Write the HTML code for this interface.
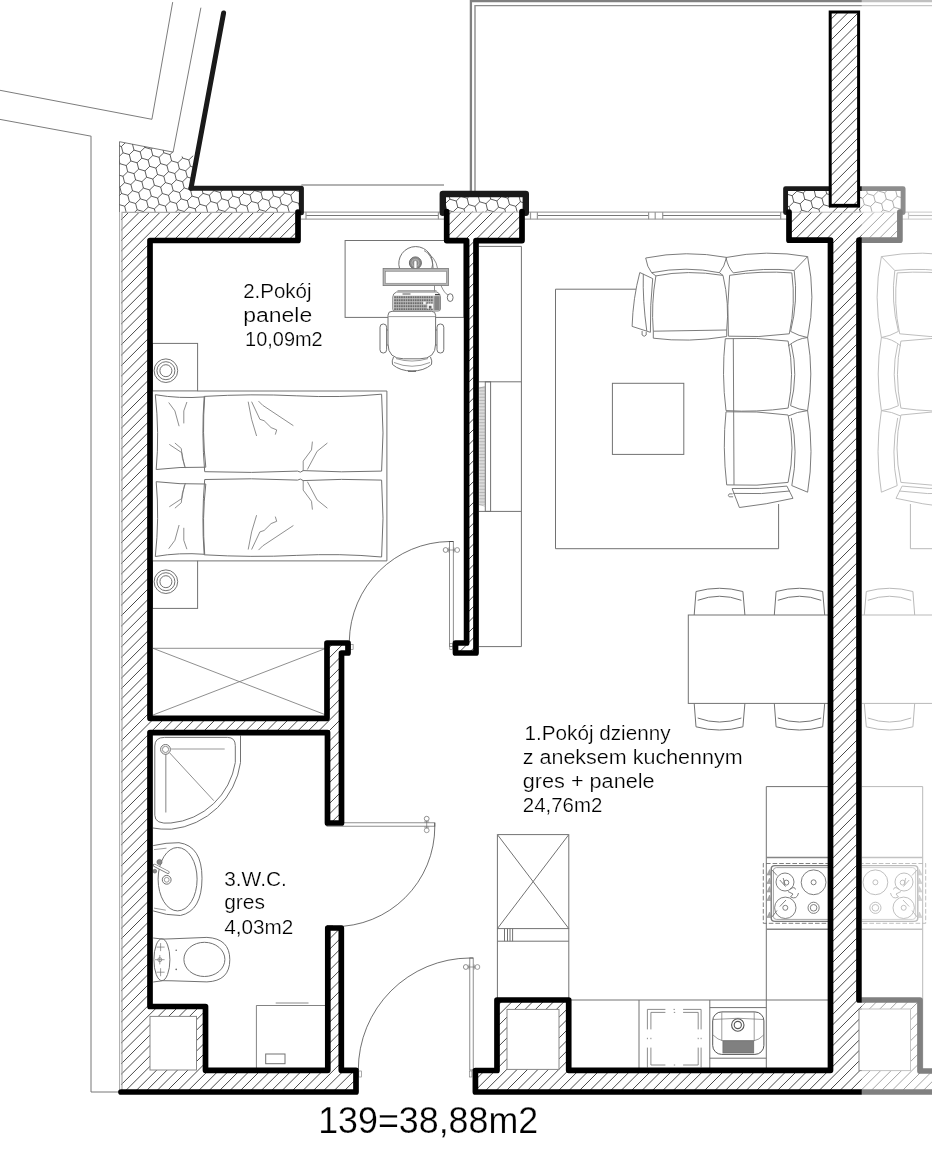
<!DOCTYPE html>
<html lang="pl"><head><meta charset="utf-8"><title>139 = 38,88 m2</title>
<style>html,body{margin:0;padding:0;background:#fff}svg{display:block;filter:grayscale(1)}</style></head>
<body><svg width="932" height="1149" viewBox="0 0 932 1149">
<defs>
<pattern id="hatch" width="10.4" height="10.4" patternUnits="userSpaceOnUse">
<path d="M-1 11.4 L11.4 -1 M-1 1 L1 -1 M9.4 11.4 L11.4 9.4" stroke="#000" stroke-width="0.68" fill="none"/>
</pattern>
<pattern id="hex" width="10.8" height="18.706" patternUnits="userSpaceOnUse" patternTransform="translate(121 143) rotate(11)">
<path d="M5.4 0 L10.8 3.118 L10.8 9.353 L5.4 12.471 L0 9.353 L0 3.118 Z M5.4 12.471 L5.4 18.706" stroke="#222" stroke-width="0.6" fill="none"/>
</pattern>
<pattern id="tvlines" width="6" height="1.5" patternUnits="userSpaceOnUse">
<path d="M0 0.75 H6" stroke="#999" stroke-width="0.8"/>
</pattern>
</defs>
<rect x="0" y="0" width="932" height="1149" fill="#fff"/>
<clipPath id="c1"><path d="M121 212 L298 212 L298 240.5 L150 240.5 L150 718.3 L327 718.3 L327 643 L348 643 L348 653 L341.5 653 L341.5 823 L327.5 823 L327.5 732.6 L150 732.6 L150 1006.5 L205.5 1006.5 L205.5 1070.3 L327.8 1070.3 L327.8 928 L341.3 928 L341.3 1070.3 L356 1070.3 L356 1092 L121 1092 Z"/></clipPath>
<path clip-path="url(#c1)" d="M120 221.04 L357 -15.96 M120 231.46 L357 -5.54 M120 241.88 L357 4.88 M120 252.30 L357 15.30 M120 262.72 L357 25.72 M120 273.14 L357 36.14 M120 283.56 L357 46.56 M120 293.98 L357 56.98 M120 304.40 L357 67.40 M120 314.82 L357 77.82 M120 325.24 L357 88.24 M120 335.66 L357 98.66 M120 346.08 L357 109.08 M120 356.50 L357 119.50 M120 366.92 L357 129.92 M120 377.34 L357 140.34 M120 387.76 L357 150.76 M120 398.18 L357 161.18 M120 408.60 L357 171.60 M120 419.02 L357 182.02 M120 429.44 L357 192.44 M120 439.86 L357 202.86 M120 450.28 L357 213.28 M120 460.70 L357 223.70 M120 471.12 L357 234.12 M120 481.54 L357 244.54 M120 491.96 L357 254.96 M120 502.38 L357 265.38 M120 512.80 L357 275.80 M120 523.22 L357 286.22 M120 533.64 L357 296.64 M120 544.06 L357 307.06 M120 554.48 L357 317.48 M120 564.90 L357 327.90 M120 575.32 L357 338.32 M120 585.74 L357 348.74 M120 596.16 L357 359.16 M120 606.58 L357 369.58 M120 617.00 L357 380.00 M120 627.42 L357 390.42 M120 637.84 L357 400.84 M120 648.26 L357 411.26 M120 658.68 L357 421.68 M120 669.10 L357 432.10 M120 679.52 L357 442.52 M120 689.94 L357 452.94 M120 700.36 L357 463.36 M120 710.78 L357 473.78 M120 721.20 L357 484.20 M120 731.62 L357 494.62 M120 742.04 L357 505.04 M120 752.46 L357 515.46 M120 762.88 L357 525.88 M120 773.30 L357 536.30 M120 783.72 L357 546.72 M120 794.14 L357 557.14 M120 804.56 L357 567.56 M120 814.98 L357 577.98 M120 825.40 L357 588.40 M120 835.82 L357 598.82 M120 846.24 L357 609.24 M120 856.66 L357 619.66 M120 867.08 L357 630.08 M120 877.50 L357 640.50 M120 887.92 L357 650.92 M120 898.34 L357 661.34 M120 908.76 L357 671.76 M120 919.18 L357 682.18 M120 929.60 L357 692.60 M120 940.02 L357 703.02 M120 950.44 L357 713.44 M120 960.86 L357 723.86 M120 971.28 L357 734.28 M120 981.70 L357 744.70 M120 992.12 L357 755.12 M120 1002.54 L357 765.54 M120 1012.96 L357 775.96 M120 1023.38 L357 786.38 M120 1033.80 L357 796.80 M120 1044.22 L357 807.22 M120 1054.64 L357 817.64 M120 1065.06 L357 828.06 M120 1075.48 L357 838.48 M120 1085.90 L357 848.90 M120 1096.32 L357 859.32 M120 1106.74 L357 869.74 M120 1117.16 L357 880.16 M120 1127.58 L357 890.58 M120 1138.00 L357 901.00 M120 1148.42 L357 911.42 M120 1158.84 L357 921.84 M120 1169.26 L357 932.26 M120 1179.68 L357 942.68 M120 1190.10 L357 953.10 M120 1200.52 L357 963.52 M120 1210.94 L357 973.94 M120 1221.36 L357 984.36 M120 1231.78 L357 994.78 M120 1242.20 L357 1005.20 M120 1252.62 L357 1015.62 M120 1263.04 L357 1026.04 M120 1273.46 L357 1036.46 M120 1283.88 L357 1046.88 M120 1294.30 L357 1057.30 M120 1304.72 L357 1067.72 M120 1315.14 L357 1078.14 M120 1325.56 L357 1088.56" fill="none" stroke="#000" stroke-width="0.72"/>
<clipPath id="c2"><path d="M446.7 211.5 L522 211.5 L522 240.6 L476 240.6 L476 653 L455.5 653 L455.5 643 L466.6 643 L466.6 240.6 L446.7 240.6 Z"/></clipPath>
<path clip-path="url(#c2)" d="M445.7 217.63 L523 140.33 M445.7 228.05 L523 150.75 M445.7 238.47 L523 161.17 M445.7 248.89 L523 171.59 M445.7 259.31 L523 182.01 M445.7 269.73 L523 192.43 M445.7 280.15 L523 202.85 M445.7 290.57 L523 213.27 M445.7 300.99 L523 223.69 M445.7 311.41 L523 234.11 M445.7 321.83 L523 244.53 M445.7 332.25 L523 254.95 M445.7 342.67 L523 265.37 M445.7 353.09 L523 275.79 M445.7 363.51 L523 286.21 M445.7 373.93 L523 296.63 M445.7 384.35 L523 307.05 M445.7 394.77 L523 317.47 M445.7 405.19 L523 327.89 M445.7 415.61 L523 338.31 M445.7 426.03 L523 348.73 M445.7 436.45 L523 359.15 M445.7 446.87 L523 369.57 M445.7 457.29 L523 379.99 M445.7 467.71 L523 390.41 M445.7 478.13 L523 400.83 M445.7 488.55 L523 411.25 M445.7 498.97 L523 421.67 M445.7 509.39 L523 432.09 M445.7 519.81 L523 442.51 M445.7 530.23 L523 452.93 M445.7 540.65 L523 463.35 M445.7 551.07 L523 473.77 M445.7 561.49 L523 484.19 M445.7 571.91 L523 494.61 M445.7 582.33 L523 505.03 M445.7 592.75 L523 515.45 M445.7 603.17 L523 525.87 M445.7 613.59 L523 536.29 M445.7 624.01 L523 546.71 M445.7 634.43 L523 557.13 M445.7 644.85 L523 567.55 M445.7 655.27 L523 577.97 M445.7 665.69 L523 588.39 M445.7 676.11 L523 598.81 M445.7 686.53 L523 609.23 M445.7 696.95 L523 619.65 M445.7 707.37 L523 630.07 M445.7 717.79 L523 640.49 M445.7 728.21 L523 650.91" fill="none" stroke="#000" stroke-width="0.72"/>
<clipPath id="c3"><path d="M789 212 L899.9 212 L899.9 240.2 L859 240.2 L859 1000 L920 1000 L920 1071 L932 1071 L932 1092 L475.4 1092 L475.4 1070.5 L497 1070.5 L497 1000 L568.7 1000 L568.7 1070.3 L830.5 1070.3 L830.5 240.2 L789 240.2 Z M830.3 204 H859 V213 H830.3 Z"/></clipPath>
<path clip-path="url(#c3)" d="M474.4 216.08 L933 -242.52 M474.4 226.50 L933 -232.10 M474.4 236.92 L933 -221.68 M474.4 247.34 L933 -211.26 M474.4 257.76 L933 -200.84 M474.4 268.18 L933 -190.42 M474.4 278.60 L933 -180.00 M474.4 289.02 L933 -169.58 M474.4 299.44 L933 -159.16 M474.4 309.86 L933 -148.74 M474.4 320.28 L933 -138.32 M474.4 330.70 L933 -127.90 M474.4 341.12 L933 -117.48 M474.4 351.54 L933 -107.06 M474.4 361.96 L933 -96.64 M474.4 372.38 L933 -86.22 M474.4 382.80 L933 -75.80 M474.4 393.22 L933 -65.38 M474.4 403.64 L933 -54.96 M474.4 414.06 L933 -44.54 M474.4 424.48 L933 -34.12 M474.4 434.90 L933 -23.70 M474.4 445.32 L933 -13.28 M474.4 455.74 L933 -2.86 M474.4 466.16 L933 7.56 M474.4 476.58 L933 17.98 M474.4 487.00 L933 28.40 M474.4 497.42 L933 38.82 M474.4 507.84 L933 49.24 M474.4 518.26 L933 59.66 M474.4 528.68 L933 70.08 M474.4 539.10 L933 80.50 M474.4 549.52 L933 90.92 M474.4 559.94 L933 101.34 M474.4 570.36 L933 111.76 M474.4 580.78 L933 122.18 M474.4 591.20 L933 132.60 M474.4 601.62 L933 143.02 M474.4 612.04 L933 153.44 M474.4 622.46 L933 163.86 M474.4 632.88 L933 174.28 M474.4 643.30 L933 184.70 M474.4 653.72 L933 195.12 M474.4 664.14 L933 205.54 M474.4 674.56 L933 215.96 M474.4 684.98 L933 226.38 M474.4 695.40 L933 236.80 M474.4 705.82 L933 247.22 M474.4 716.24 L933 257.64 M474.4 726.66 L933 268.06 M474.4 737.08 L933 278.48 M474.4 747.50 L933 288.90 M474.4 757.92 L933 299.32 M474.4 768.34 L933 309.74 M474.4 778.76 L933 320.16 M474.4 789.18 L933 330.58 M474.4 799.60 L933 341.00 M474.4 810.02 L933 351.42 M474.4 820.44 L933 361.84 M474.4 830.86 L933 372.26 M474.4 841.28 L933 382.68 M474.4 851.70 L933 393.10 M474.4 862.12 L933 403.52 M474.4 872.54 L933 413.94 M474.4 882.96 L933 424.36 M474.4 893.38 L933 434.78 M474.4 903.80 L933 445.20 M474.4 914.22 L933 455.62 M474.4 924.64 L933 466.04 M474.4 935.06 L933 476.46 M474.4 945.48 L933 486.88 M474.4 955.90 L933 497.30 M474.4 966.32 L933 507.72 M474.4 976.74 L933 518.14 M474.4 987.16 L933 528.56 M474.4 997.58 L933 538.98 M474.4 1008.00 L933 549.40 M474.4 1018.42 L933 559.82 M474.4 1028.84 L933 570.24 M474.4 1039.26 L933 580.66 M474.4 1049.68 L933 591.08 M474.4 1060.10 L933 601.50 M474.4 1070.52 L933 611.92 M474.4 1080.94 L933 622.34 M474.4 1091.36 L933 632.76 M474.4 1101.78 L933 643.18 M474.4 1112.20 L933 653.60 M474.4 1122.62 L933 664.02 M474.4 1133.04 L933 674.44 M474.4 1143.46 L933 684.86 M474.4 1153.88 L933 695.28 M474.4 1164.30 L933 705.70 M474.4 1174.72 L933 716.12 M474.4 1185.14 L933 726.54 M474.4 1195.56 L933 736.96 M474.4 1205.98 L933 747.38 M474.4 1216.40 L933 757.80 M474.4 1226.82 L933 768.22 M474.4 1237.24 L933 778.64 M474.4 1247.66 L933 789.06 M474.4 1258.08 L933 799.48 M474.4 1268.50 L933 809.90 M474.4 1278.92 L933 820.32 M474.4 1289.34 L933 830.74 M474.4 1299.76 L933 841.16 M474.4 1310.18 L933 851.58 M474.4 1320.60 L933 862.00 M474.4 1331.02 L933 872.42 M474.4 1341.44 L933 882.84 M474.4 1351.86 L933 893.26 M474.4 1362.28 L933 903.68 M474.4 1372.70 L933 914.10 M474.4 1383.12 L933 924.52 M474.4 1393.54 L933 934.94 M474.4 1403.96 L933 945.36 M474.4 1414.38 L933 955.78 M474.4 1424.80 L933 966.20 M474.4 1435.22 L933 976.62 M474.4 1445.64 L933 987.04 M474.4 1456.06 L933 997.46 M474.4 1466.48 L933 1007.88 M474.4 1476.90 L933 1018.30 M474.4 1487.32 L933 1028.72 M474.4 1497.74 L933 1039.14 M474.4 1508.16 L933 1049.56 M474.4 1518.58 L933 1059.98 M474.4 1529.00 L933 1070.40 M474.4 1539.42 L933 1080.82 M474.4 1549.84 L933 1091.24" fill="none" stroke="#000" stroke-width="0.72"/>
<clipPath id="c4"><path d="M831.2 12.2 H858.6 V205.2 H831.2 Z"/></clipPath>
<path clip-path="url(#c4)" d="M830 20.20 L860 -9.80 M830 30.62 L860 0.62 M830 41.04 L860 11.04 M830 51.46 L860 21.46 M830 61.88 L860 31.88 M830 72.30 L860 42.30 M830 82.72 L860 52.72 M830 93.14 L860 63.14 M830 103.56 L860 73.56 M830 113.98 L860 83.98 M830 124.40 L860 94.40 M830 134.82 L860 104.82 M830 145.24 L860 115.24 M830 155.66 L860 125.66 M830 166.08 L860 136.08 M830 176.50 L860 146.50 M830 186.92 L860 156.92 M830 197.34 L860 167.34 M830 207.76 L860 177.76 M830 218.18 L860 188.18 M830 228.60 L860 198.60" fill="none" stroke="#000" stroke-width="0.72"/>
<clipPath id="h1"><path d="M119.5 141.7 L173.1 152.1 L180 153.4 L181.5 156.5 L187 157 L191.5 154.5 L197 158.5 L191 188 L301.4 188 L301.4 212 L119.5 212 Z"/></clipPath>
<path clip-path="url(#h1)" d="M80.6 123.0 L86.9 124.8 L88.5 131.2 L83.8 135.7 M91.6 120.3 L97.9 122.1 L99.5 128.4 L94.8 133.0 M102.6 117.6 L108.8 119.4 L110.4 125.7 L105.7 130.2 M113.5 114.8 L119.8 116.6 L121.4 123.0 L116.7 127.5 M124.5 112.1 L130.8 113.9 L132.4 120.2 L127.7 124.8 M135.5 109.4 L141.7 111.2 L143.3 117.5 L138.6 122.0 M146.4 106.6 L152.7 108.4 L154.3 114.8 L149.6 119.3 M157.4 103.9 L163.7 105.7 L165.2 112.0 L160.6 116.6 M168.4 101.2 L174.6 103.0 L176.2 109.3 L171.5 113.8 M179.3 98.4 L185.6 100.2 L187.2 106.6 L182.5 111.1 M190.3 95.7 L196.6 97.5 L198.1 103.8 L193.4 108.4 M201.3 93.0 L207.5 94.8 L209.1 101.1 L204.4 105.6 M212.2 90.2 L218.5 92.0 L220.1 98.4 L215.4 102.9 M223.2 87.5 L229.5 89.3 L231.0 95.6 L226.3 100.2 M234.1 84.8 L240.4 86.6 L242.0 92.9 L237.3 97.4 M245.1 82.0 L251.4 83.8 L253.0 90.2 L248.3 94.7 M256.1 79.3 L262.3 81.1 L263.9 87.4 L259.2 92.0 M267.0 76.6 L273.3 78.4 L274.9 84.7 L270.2 89.2 M278.0 73.8 L284.3 75.6 L285.9 82.0 L281.2 86.5 M289.0 71.1 L295.2 72.9 L296.8 79.2 L292.1 83.8 M299.9 68.4 L306.2 70.2 L307.8 76.5 L303.1 81.0 M77.5 133.9 L83.8 135.7 L85.4 142.0 L80.7 146.6 M88.5 131.2 L94.8 133.0 L96.3 139.3 L91.7 143.8 M99.5 128.4 L105.7 130.2 L107.3 136.6 L102.6 141.1 M110.4 125.7 L116.7 127.5 L118.3 133.8 L113.6 138.4 M121.4 123.0 L127.7 124.8 L129.2 131.1 L124.5 135.6 M132.4 120.2 L138.6 122.0 L140.2 128.4 L135.5 132.9 M143.3 117.5 L149.6 119.3 L151.2 125.6 L146.5 130.2 M154.3 114.8 L160.6 116.6 L162.1 122.9 L157.4 127.4 M165.2 112.0 L171.5 113.8 L173.1 120.2 L168.4 124.7 M176.2 109.3 L182.5 111.1 L184.1 117.4 L179.4 122.0 M187.2 106.6 L193.4 108.4 L195.0 114.7 L190.3 119.2 M198.1 103.8 L204.4 105.6 L206.0 112.0 L201.3 116.5 M209.1 101.1 L215.4 102.9 L217.0 109.2 L212.3 113.8 M220.1 98.4 L226.3 100.2 L227.9 106.5 L223.2 111.0 M231.0 95.6 L237.3 97.4 L238.9 103.8 L234.2 108.3 M242.0 92.9 L248.3 94.7 L249.8 101.0 L245.2 105.6 M253.0 90.2 L259.2 92.0 L260.8 98.3 L256.1 102.8 M263.9 87.4 L270.2 89.2 L271.8 95.6 L267.1 100.1 M274.9 84.7 L281.2 86.5 L282.7 92.8 L278.0 97.4 M285.9 82.0 L292.1 83.8 L293.7 90.1 L289.0 94.6 M296.8 79.2 L303.1 81.0 L304.7 87.4 L300.0 91.9 M307.8 76.5 L314.1 78.3 L315.6 84.6 L310.9 89.2 M85.4 142.0 L91.7 143.8 L93.2 150.2 L88.5 154.7 M96.3 139.3 L102.6 141.1 L104.2 147.4 L99.5 152.0 M107.3 136.6 L113.6 138.4 L115.2 144.7 L110.5 149.2 M118.3 133.8 L124.5 135.6 L126.1 142.0 L121.4 146.5 M129.2 131.1 L135.5 132.9 L137.1 139.2 L132.4 143.8 M140.2 128.4 L146.5 130.2 L148.1 136.5 L143.4 141.0 M151.2 125.6 L157.4 127.4 L159.0 133.8 L154.3 138.3 M162.1 122.9 L168.4 124.7 L170.0 131.0 L165.3 135.6 M173.1 120.2 L179.4 122.0 L180.9 128.3 L176.3 132.8 M184.1 117.4 L190.3 119.2 L191.9 125.6 L187.2 130.1 M195.0 114.7 L201.3 116.5 L202.9 122.8 L198.2 127.4 M206.0 112.0 L212.3 113.8 L213.8 120.1 L209.1 124.6 M217.0 109.2 L223.2 111.0 L224.8 117.4 L220.1 121.9 M227.9 106.5 L234.2 108.3 L235.8 114.6 L231.1 119.2 M238.9 103.8 L245.2 105.6 L246.7 111.9 L242.0 116.4 M249.8 101.0 L256.1 102.8 L257.7 109.2 L253.0 113.7 M260.8 98.3 L267.1 100.1 L268.7 106.4 L264.0 111.0 M271.8 95.6 L278.0 97.4 L279.6 103.7 L274.9 108.2 M282.7 92.8 L289.0 94.6 L290.6 101.0 L285.9 105.5 M293.7 90.1 L300.0 91.9 L301.6 98.2 L296.9 102.8 M304.7 87.4 L310.9 89.2 L312.5 95.5 L307.8 100.0 M82.3 152.9 L88.5 154.7 L90.1 161.0 L85.4 165.6 M93.2 150.2 L99.5 152.0 L101.1 158.3 L96.4 162.8 M104.2 147.4 L110.5 149.2 L112.0 155.6 L107.4 160.1 M115.2 144.7 L121.4 146.5 L123.0 152.8 L118.3 157.4 M126.1 142.0 L132.4 143.8 L134.0 150.1 L129.3 154.6 M137.1 139.2 L143.4 141.0 L144.9 147.4 L140.2 151.9 M148.1 136.5 L154.3 138.3 L155.9 144.6 L151.2 149.2 M159.0 133.8 L165.3 135.6 L166.9 141.9 L162.2 146.4 M170.0 131.0 L176.3 132.8 L177.8 139.2 L173.1 143.7 M180.9 128.3 L187.2 130.1 L188.8 136.4 L184.1 141.0 M191.9 125.6 L198.2 127.4 L199.8 133.7 L195.1 138.2 M202.9 122.8 L209.1 124.6 L210.7 131.0 L206.0 135.5 M213.8 120.1 L220.1 121.9 L221.7 128.2 L217.0 132.8 M224.8 117.4 L231.1 119.2 L232.7 125.5 L228.0 130.0 M235.8 114.6 L242.0 116.4 L243.6 122.8 L238.9 127.3 M246.7 111.9 L253.0 113.7 L254.6 120.0 L249.9 124.6 M257.7 109.2 L264.0 111.0 L265.5 117.3 L260.9 121.8 M268.7 106.4 L274.9 108.2 L276.5 114.6 L271.8 119.1 M279.6 103.7 L285.9 105.5 L287.5 111.8 L282.8 116.4 M290.6 101.0 L296.9 102.8 L298.4 109.1 L293.7 113.6 M301.6 98.2 L307.8 100.0 L309.4 106.4 L304.7 110.9 M312.5 95.5 L318.8 97.3 L320.4 103.6 L315.7 108.1 M90.1 161.0 L96.4 162.8 L98.0 169.2 L93.3 173.7 M101.1 158.3 L107.4 160.1 L108.9 166.4 L104.2 171.0 M112.0 155.6 L118.3 157.4 L119.9 163.7 L115.2 168.2 M123.0 152.8 L129.3 154.6 L130.9 161.0 L126.2 165.5 M134.0 150.1 L140.2 151.9 L141.8 158.2 L137.1 162.8 M144.9 147.4 L151.2 149.2 L152.8 155.5 L148.1 160.0 M155.9 144.6 L162.2 146.4 L163.8 152.8 L159.1 157.3 M166.9 141.9 L173.1 143.7 L174.7 150.0 L170.0 154.6 M177.8 139.2 L184.1 141.0 L185.7 147.3 L181.0 151.8 M188.8 136.4 L195.1 138.2 L196.6 144.6 L192.0 149.1 M199.8 133.7 L206.0 135.5 L207.6 141.8 L202.9 146.3 M210.7 131.0 L217.0 132.8 L218.6 139.1 L213.9 143.6 M221.7 128.2 L228.0 130.0 L229.5 136.3 L224.8 140.9 M232.7 125.5 L238.9 127.3 L240.5 133.6 L235.8 138.1 M243.6 122.8 L249.9 124.6 L251.5 130.9 L246.8 135.4 M254.6 120.0 L260.9 121.8 L262.4 128.1 L257.7 132.7 M265.5 117.3 L271.8 119.1 L273.4 125.4 L268.7 129.9 M276.5 114.6 L282.8 116.4 L284.4 122.7 L279.7 127.2 M287.5 111.8 L293.7 113.6 L295.3 119.9 L290.6 124.5 M298.4 109.1 L304.7 110.9 L306.3 117.2 L301.6 121.7 M309.4 106.4 L315.7 108.1 L317.3 114.5 L312.6 119.0 M87.0 171.9 L93.3 173.7 L94.8 180.0 L90.2 184.5 M98.0 169.2 L104.2 171.0 L105.8 177.3 L101.1 181.8 M108.9 166.4 L115.2 168.2 L116.8 174.5 L112.1 179.1 M119.9 163.7 L126.2 165.5 L127.7 171.8 L123.0 176.3 M130.9 161.0 L137.1 162.8 L138.7 169.1 L134.0 173.6 M141.8 158.2 L148.1 160.0 L149.7 166.3 L145.0 170.9 M152.8 155.5 L159.1 157.3 L160.6 163.6 L155.9 168.1 M163.8 152.8 L170.0 154.6 L171.6 160.9 L166.9 165.4 M174.7 150.0 L181.0 151.8 L182.6 158.1 L177.9 162.7 M185.7 147.3 L192.0 149.1 L193.5 155.4 L188.8 159.9 M196.6 144.6 L202.9 146.3 L204.5 152.7 L199.8 157.2 M207.6 141.8 L213.9 143.6 L215.5 149.9 L210.8 154.5 M218.6 139.1 L224.8 140.9 L226.4 147.2 L221.7 151.7 M229.5 136.3 L235.8 138.1 L237.4 144.5 L232.7 149.0 M240.5 133.6 L246.8 135.4 L248.4 141.7 L243.7 146.3 M251.5 130.9 L257.7 132.7 L259.3 139.0 L254.6 143.5 M262.4 128.1 L268.7 129.9 L270.3 136.3 L265.6 140.8 M273.4 125.4 L279.7 127.2 L281.2 133.5 L276.6 138.1 M284.4 122.7 L290.6 124.5 L292.2 130.8 L287.5 135.3 M295.3 119.9 L301.6 121.7 L303.2 128.1 L298.5 132.6 M306.3 117.2 L312.6 119.0 L314.1 125.3 L309.4 129.9 M317.3 114.5 L323.5 116.3 L325.1 122.6 L320.4 127.1 M94.8 180.0 L101.1 181.8 L102.7 188.1 L98.0 192.7 M105.8 177.3 L112.1 179.1 L113.7 185.4 L109.0 189.9 M116.8 174.5 L123.0 176.3 L124.6 182.7 L119.9 187.2 M127.7 171.8 L134.0 173.6 L135.6 179.9 L130.9 184.5 M138.7 169.1 L145.0 170.9 L146.6 177.2 L141.9 181.7 M149.7 166.3 L155.9 168.1 L157.5 174.5 L152.8 179.0 M160.6 163.6 L166.9 165.4 L168.5 171.7 L163.8 176.3 M171.6 160.9 L177.9 162.7 L179.4 169.0 L174.8 173.5 M182.6 158.1 L188.8 159.9 L190.4 166.3 L185.7 170.8 M193.5 155.4 L199.8 157.2 L201.4 163.5 L196.7 168.1 M204.5 152.7 L210.8 154.5 L212.3 160.8 L207.6 165.3 M215.5 149.9 L221.7 151.7 L223.3 158.1 L218.6 162.6 M226.4 147.2 L232.7 149.0 L234.3 155.3 L229.6 159.9 M237.4 144.5 L243.7 146.3 L245.2 152.6 L240.5 157.1 M248.4 141.7 L254.6 143.5 L256.2 149.9 L251.5 154.4 M259.3 139.0 L265.6 140.8 L267.2 147.1 L262.5 151.7 M270.3 136.3 L276.6 138.1 L278.1 144.4 L273.4 148.9 M281.2 133.5 L287.5 135.3 L289.1 141.7 L284.4 146.2 M292.2 130.8 L298.5 132.6 L300.1 138.9 L295.4 143.5 M303.2 128.1 L309.4 129.9 L311.0 136.2 L306.3 140.7 M314.1 125.3 L320.4 127.1 L322.0 133.5 L317.3 138.0 M91.7 190.9 L98.0 192.7 L99.6 199.0 L94.9 203.5 M102.7 188.1 L109.0 189.9 L110.5 196.3 L105.9 200.8 M113.7 185.4 L119.9 187.2 L121.5 193.5 L116.8 198.1 M124.6 182.7 L130.9 184.5 L132.5 190.8 L127.8 195.3 M135.6 179.9 L141.9 181.7 L143.4 188.1 L138.7 192.6 M146.6 177.2 L152.8 179.0 L154.4 185.3 L149.7 189.9 M157.5 174.5 L163.8 176.3 L165.4 182.6 L160.7 187.1 M168.5 171.7 L174.8 173.5 L176.3 179.9 L171.6 184.4 M179.4 169.0 L185.7 170.8 L187.3 177.1 L182.6 181.7 M190.4 166.3 L196.7 168.1 L198.3 174.4 L193.6 178.9 M201.4 163.5 L207.6 165.3 L209.2 171.7 L204.5 176.2 M212.3 160.8 L218.6 162.6 L220.2 168.9 L215.5 173.5 M223.3 158.1 L229.6 159.9 L231.2 166.2 L226.5 170.7 M234.3 155.3 L240.5 157.1 L242.1 163.5 L237.4 168.0 M245.2 152.6 L251.5 154.4 L253.1 160.7 L248.4 165.3 M256.2 149.9 L262.5 151.7 L264.0 158.0 L259.4 162.5 M267.2 147.1 L273.4 148.9 L275.0 155.3 L270.3 159.8 M278.1 144.4 L284.4 146.2 L286.0 152.5 L281.3 157.1 M289.1 141.7 L295.4 143.5 L296.9 149.8 L292.2 154.3 M300.1 138.9 L306.3 140.7 L307.9 147.1 L303.2 151.6 M311.0 136.2 L317.3 138.0 L318.9 144.3 L314.2 148.9 M322.0 133.5 L328.3 135.3 L329.8 141.6 L325.1 146.1 M99.6 199.0 L105.9 200.8 L107.4 207.1 L102.7 211.7 M110.5 196.3 L116.8 198.1 L118.4 204.4 L113.7 208.9 M121.5 193.5 L127.8 195.3 L129.4 201.7 L124.7 206.2 M132.5 190.8 L138.7 192.6 L140.3 198.9 L135.6 203.5 M143.4 188.1 L149.7 189.9 L151.3 196.2 L146.6 200.7 M154.4 185.3 L160.7 187.1 L162.3 193.5 L157.6 198.0 M165.4 182.6 L171.6 184.4 L173.2 190.7 L168.5 195.3 M176.3 179.9 L182.6 181.7 L184.2 188.0 L179.5 192.5 M187.3 177.1 L193.6 178.9 L195.1 185.3 L190.5 189.8 M198.3 174.4 L204.5 176.2 L206.1 182.5 L201.4 187.1 M209.2 171.7 L215.5 173.5 L217.1 179.8 L212.4 184.3 M220.2 168.9 L226.5 170.7 L228.0 177.1 L223.3 181.6 M231.2 166.2 L237.4 168.0 L239.0 174.3 L234.3 178.9 M242.1 163.5 L248.4 165.3 L250.0 171.6 L245.3 176.1 M253.1 160.7 L259.4 162.5 L260.9 168.9 L256.2 173.4 M264.0 158.0 L270.3 159.8 L271.9 166.1 L267.2 170.7 M275.0 155.3 L281.3 157.1 L282.9 163.4 L278.2 167.9 M286.0 152.5 L292.2 154.3 L293.8 160.7 L289.1 165.2 M296.9 149.8 L303.2 151.6 L304.8 157.9 L300.1 162.5 M307.9 147.1 L314.2 148.9 L315.8 155.2 L311.1 159.7 M318.9 144.3 L325.1 146.1 L326.7 152.5 L322.0 157.0 M96.5 209.9 L102.7 211.7 L104.3 218.0 L99.6 222.5 M107.4 207.1 L113.7 208.9 L115.3 215.3 L110.6 219.8 M118.4 204.4 L124.7 206.2 L126.2 212.5 L121.6 217.1 M129.4 201.7 L135.6 203.5 L137.2 209.8 L132.5 214.3 M140.3 198.9 L146.6 200.7 L148.2 207.1 L143.5 211.6 M151.3 196.2 L157.6 198.0 L159.1 204.3 L154.4 208.9 M162.3 193.5 L168.5 195.3 L170.1 201.6 L165.4 206.1 M173.2 190.7 L179.5 192.5 L181.1 198.9 L176.4 203.4 M184.2 188.0 L190.5 189.8 L192.0 196.1 L187.3 200.7 M195.1 185.3 L201.4 187.1 L203.0 193.4 L198.3 197.9 M206.1 182.5 L212.4 184.3 L214.0 190.7 L209.3 195.2 M217.1 179.8 L223.3 181.6 L224.9 187.9 L220.2 192.5 M228.0 177.1 L234.3 178.9 L235.9 185.2 L231.2 189.7 M239.0 174.3 L245.3 176.1 L246.9 182.5 L242.2 187.0 M250.0 171.6 L256.2 173.4 L257.8 179.7 L253.1 184.3 M260.9 168.9 L267.2 170.7 L268.8 177.0 L264.1 181.5 M271.9 166.1 L278.2 167.9 L279.7 174.3 L275.1 178.8 M282.9 163.4 L289.1 165.2 L290.7 171.5 L286.0 176.1 M293.8 160.7 L300.1 162.5 L301.7 168.8 L297.0 173.3 M304.8 157.9 L311.1 159.7 L312.6 166.1 L307.9 170.6 M315.8 155.2 L322.0 157.0 L323.6 163.3 L318.9 167.9 M326.7 152.5 L333.0 154.3 L334.6 160.6 L329.9 165.1 M104.3 218.0 L110.6 219.8 L112.2 226.1 L107.5 230.7 M115.3 215.3 L121.6 217.1 L123.1 223.4 L118.4 227.9 M126.2 212.5 L132.5 214.3 L134.1 220.7 L129.4 225.2 M137.2 209.8 L143.5 211.6 L145.1 217.9 L140.4 222.5 M148.2 207.1 L154.4 208.9 L156.0 215.2 L151.3 219.7 M159.1 204.3 L165.4 206.1 L167.0 212.5 L162.3 217.0 M170.1 201.6 L176.4 203.4 L178.0 209.7 L173.3 214.3 M181.1 198.9 L187.3 200.7 L188.9 207.0 L184.2 211.5 M192.0 196.1 L198.3 197.9 L199.9 204.3 L195.2 208.8 M203.0 193.4 L209.3 195.2 L210.8 201.5 L206.2 206.1 M214.0 190.7 L220.2 192.5 L221.8 198.8 L217.1 203.3 M224.9 187.9 L231.2 189.7 L232.8 196.1 L228.1 200.6 M235.9 185.2 L242.2 187.0 L243.7 193.3 L239.0 197.9 M246.9 182.5 L253.1 184.3 L254.7 190.6 L250.0 195.1 M257.8 179.7 L264.1 181.5 L265.7 187.9 L261.0 192.4 M268.8 177.0 L275.1 178.8 L276.6 185.1 L271.9 189.7 M279.7 174.3 L286.0 176.1 L287.6 182.4 L282.9 186.9 M290.7 171.5 L297.0 173.3 L298.6 179.7 L293.9 184.2 M301.7 168.8 L307.9 170.6 L309.5 176.9 L304.8 181.5 M312.6 166.1 L318.9 167.9 L320.5 174.2 L315.8 178.7 M323.6 163.3 L329.9 165.1 L331.5 171.5 L326.8 176.0 M101.2 228.9 L107.5 230.7 L109.1 237.0 L104.4 241.5 M112.2 226.1 L118.4 227.9 L120.0 234.3 L115.3 238.8 M123.1 223.4 L129.4 225.2 L131.0 231.5 L126.3 236.1 M134.1 220.7 L140.4 222.5 L141.9 228.8 L137.3 233.3 M145.1 217.9 L151.3 219.7 L152.9 226.1 L148.2 230.6 M156.0 215.2 L162.3 217.0 L163.9 223.3 L159.2 227.9 M167.0 212.5 L173.3 214.3 L174.8 220.6 L170.1 225.1 M178.0 209.7 L184.2 211.5 L185.8 217.9 L181.1 222.4 M188.9 207.0 L195.2 208.8 L196.8 215.1 L192.1 219.7 M199.9 204.3 L206.2 206.1 L207.7 212.4 L203.0 216.9 M210.8 201.5 L217.1 203.3 L218.7 209.7 L214.0 214.2 M221.8 198.8 L228.1 200.6 L229.7 206.9 L225.0 211.5 M232.8 196.1 L239.0 197.9 L240.6 204.2 L235.9 208.7 M243.7 193.3 L250.0 195.1 L251.6 201.5 L246.9 206.0 M254.7 190.6 L261.0 192.4 L262.6 198.7 L257.9 203.2 M265.7 187.9 L271.9 189.7 L273.5 196.0 L268.8 200.5 M276.6 185.1 L282.9 186.9 L284.5 193.2 L279.8 197.8 M287.6 182.4 L293.9 184.2 L295.4 190.5 L290.8 195.0 M298.6 179.7 L304.8 181.5 L306.4 187.8 L301.7 192.3 M309.5 176.9 L315.8 178.7 L317.4 185.0 L312.7 189.6 M320.5 174.2 L326.8 176.0 L328.3 182.3 L323.6 186.8 M331.5 171.5 L337.7 173.3 L339.3 179.6 L334.6 184.1 M109.1 237.0 L115.3 238.8 L116.9 245.1 L112.2 249.6 M120.0 234.3 L126.3 236.1 L127.9 242.4 L123.2 246.9 M131.0 231.5 L137.3 233.3 L138.8 239.7 L134.1 244.2 M141.9 228.8 L148.2 230.6 L149.8 236.9 L145.1 241.4 M152.9 226.1 L159.2 227.9 L160.8 234.2 L156.1 238.7 M163.9 223.3 L170.1 225.1 L171.7 231.4 L167.0 236.0 M174.8 220.6 L181.1 222.4 L182.7 228.7 L178.0 233.2 M185.8 217.9 L192.1 219.7 L193.7 226.0 L189.0 230.5 M196.8 215.1 L203.0 216.9 L204.6 223.2 L199.9 227.8 M207.7 212.4 L214.0 214.2 L215.6 220.5 L210.9 225.0 M218.7 209.7 L225.0 211.5 L226.5 217.8 L221.9 222.3 M229.7 206.9 L235.9 208.7 L237.5 215.0 L232.8 219.6 M240.6 204.2 L246.9 206.0 L248.5 212.3 L243.8 216.8 M251.6 201.5 L257.9 203.2 L259.4 209.6 L254.7 214.1 M262.6 198.7 L268.8 200.5 L270.4 206.8 L265.7 211.4 M273.5 196.0 L279.8 197.8 L281.4 204.1 L276.7 208.6 M284.5 193.2 L290.8 195.0 L292.3 201.4 L287.6 205.9 M295.4 190.5 L301.7 192.3 L303.3 198.6 L298.6 203.2 M306.4 187.8 L312.7 189.6 L314.3 195.9 L309.6 200.4 M317.4 185.0 L323.6 186.8 L325.2 193.2 L320.5 197.7 M328.3 182.3 L334.6 184.1 L336.2 190.4 L331.5 195.0 M105.9 247.9 L112.2 249.6 L113.8 256.0 L109.1 260.5 M116.9 245.1 L123.2 246.9 L124.8 253.2 L120.1 257.8 M127.9 242.4 L134.1 244.2 L135.7 250.5 L131.0 255.0 M138.8 239.7 L145.1 241.4 L146.7 247.8 L142.0 252.3 M149.8 236.9 L156.1 238.7 L157.6 245.0 L153.0 249.6 M160.8 234.2 L167.0 236.0 L168.6 242.3 L163.9 246.8 M171.7 231.4 L178.0 233.2 L179.6 239.6 L174.9 244.1 M182.7 228.7 L189.0 230.5 L190.5 236.8 L185.8 241.4 M193.7 226.0 L199.9 227.8 L201.5 234.1 L196.8 238.6 M204.6 223.2 L210.9 225.0 L212.5 231.4 L207.8 235.9 M215.6 220.5 L221.9 222.3 L223.4 228.6 L218.7 233.2 M226.5 217.8 L232.8 219.6 L234.4 225.9 L229.7 230.4 M237.5 215.0 L243.8 216.8 L245.4 223.2 L240.7 227.7 M248.5 212.3 L254.7 214.1 L256.3 220.4 L251.6 225.0 M259.4 209.6 L265.7 211.4 L267.3 217.7 L262.6 222.2 M270.4 206.8 L276.7 208.6 L278.3 215.0 L273.6 219.5 M281.4 204.1 L287.6 205.9 L289.2 212.2 L284.5 216.8 M292.3 201.4 L298.6 203.2 L300.2 209.5 L295.5 214.0 M303.3 198.6 L309.6 200.4 L311.1 206.8 L306.5 211.3 M314.3 195.9 L320.5 197.7 L322.1 204.0 L317.4 208.6 M325.2 193.2 L331.5 195.0 L333.1 201.3 L328.4 205.8 M336.2 190.4 L342.5 192.2 L344.0 198.6 L339.3 203.1 M113.8 256.0 L120.1 257.8 L121.6 264.1 L116.9 268.6 M124.8 253.2 L131.0 255.0 L132.6 261.4 L127.9 265.9 M135.7 250.5 L142.0 252.3 L143.6 258.6 L138.9 263.2 M146.7 247.8 L153.0 249.6 L154.5 255.9 L149.8 260.4 M157.6 245.0 L163.9 246.8 L165.5 253.2 L160.8 257.7 M168.6 242.3 L174.9 244.1 L176.5 250.4 L171.8 255.0 M179.6 239.6 L185.8 241.4 L187.4 247.7 L182.7 252.2 M190.5 236.8 L196.8 238.6 L198.4 245.0 L193.7 249.5 M201.5 234.1 L207.8 235.9 L209.4 242.2 L204.7 246.8 M212.5 231.4 L218.7 233.2 L220.3 239.5 L215.6 244.0 M223.4 228.6 L229.7 230.4 L231.3 236.8 L226.6 241.3 M234.4 225.9 L240.7 227.7 L242.2 234.0 L237.6 238.6 M245.4 223.2 L251.6 225.0 L253.2 231.3 L248.5 235.8 M256.3 220.4 L262.6 222.2 L264.2 228.6 L259.5 233.1 M267.3 217.7 L273.6 219.5 L275.1 225.8 L270.4 230.4 M278.3 215.0 L284.5 216.8 L286.1 223.1 L281.4 227.6 M289.2 212.2 L295.5 214.0 L297.1 220.4 L292.4 224.9 M300.2 209.5 L306.5 211.3 L308.0 217.6 L303.3 222.2 M311.1 206.8 L317.4 208.6 L319.0 214.9 L314.3 219.4 M322.1 204.0 L328.4 205.8 L330.0 212.2 L325.3 216.7 M333.1 201.3 L339.3 203.1 L340.9 209.4 L336.2 214.0 M110.7 266.8 L116.9 268.6 L118.5 275.0 L113.8 279.5 M121.6 264.1 L127.9 265.9 L129.5 272.2 L124.8 276.8 M132.6 261.4 L138.9 263.2 L140.5 269.5 L135.8 274.0 M143.6 258.6 L149.8 260.4 L151.4 266.8 L146.7 271.3 M154.5 255.9 L160.8 257.7 L162.4 264.0 L157.7 268.6 M165.5 253.2 L171.8 255.0 L173.3 261.3 L168.7 265.8 M176.5 250.4 L182.7 252.2 L184.3 258.6 L179.6 263.1 M187.4 247.7 L193.7 249.5 L195.3 255.8 L190.6 260.4 M198.4 245.0 L204.7 246.8 L206.2 253.1 L201.5 257.6 M209.4 242.2 L215.6 244.0 L217.2 250.4 L212.5 254.9 M220.3 239.5 L226.6 241.3 L228.2 247.6 L223.5 252.2 M231.3 236.8 L237.6 238.6 L239.1 244.9 L234.4 249.4 M242.2 234.0 L248.5 235.8 L250.1 242.2 L245.4 246.7 M253.2 231.3 L259.5 233.1 L261.1 239.4 L256.4 244.0 M264.2 228.6 L270.4 230.4 L272.0 236.7 L267.3 241.2 M275.1 225.8 L281.4 227.6 L283.0 234.0 L278.3 238.5 M286.1 223.1 L292.4 224.9 L294.0 231.2 L289.3 235.8 M297.1 220.4 L303.3 222.2 L304.9 228.5 L300.2 233.0 M308.0 217.6 L314.3 219.4 L315.9 225.8 L311.2 230.3 M319.0 214.9 L325.3 216.7 L326.8 223.0 L322.2 227.6 M330.0 212.2 L336.2 214.0 L337.8 220.3 L333.1 224.8 M340.9 209.4 L347.2 211.2 L348.8 217.6 L344.1 222.1 M118.5 275.0 L124.8 276.8 L126.4 283.1 L121.7 287.6 M129.5 272.2 L135.8 274.0 L137.3 280.4 L132.6 284.9 M140.5 269.5 L146.7 271.3 L148.3 277.6 L143.6 282.2 M151.4 266.8 L157.7 268.6 L159.3 274.9 L154.6 279.4 M162.4 264.0 L168.7 265.8 L170.2 272.2 L165.5 276.7 M173.3 261.3 L179.6 263.1 L181.2 269.4 L176.5 274.0 M184.3 258.6 L190.6 260.4 L192.2 266.7 L187.5 271.2 M195.3 255.8 L201.5 257.6 L203.1 264.0 L198.4 268.5 M206.2 253.1 L212.5 254.9 L214.1 261.2 L209.4 265.8 M217.2 250.4 L223.5 252.2 L225.1 258.5 L220.4 263.0 M228.2 247.6 L234.4 249.4 L236.0 255.8 L231.3 260.3 M239.1 244.9 L245.4 246.7 L247.0 253.0 L242.3 257.6 M250.1 242.2 L256.4 244.0 L257.9 250.3 L253.3 254.8 M261.1 239.4 L267.3 241.2 L268.9 247.6 L264.2 252.1 M272.0 236.7 L278.3 238.5 L279.9 244.8 L275.2 249.4 M283.0 234.0 L289.3 235.8 L290.8 242.1 L286.1 246.6 M294.0 231.2 L300.2 233.0 L301.8 239.4 L297.1 243.9 M304.9 228.5 L311.2 230.3 L312.8 236.6 L308.1 241.2 M315.9 225.8 L322.2 227.6 L323.7 233.9 L319.0 238.4 M326.8 223.0 L333.1 224.8 L334.7 231.2 L330.0 235.7 M337.8 220.3 L344.1 222.1 L345.7 228.4 L341.0 233.0" fill="none" stroke="#1a1a1a" stroke-width="0.7" stroke-linejoin="round"/>
<clipPath id="h2"><path d="M443 194 H525.6 V212 H443 Z"/></clipPath>
<path clip-path="url(#h2)" d="M415.4 177.5 L421.7 179.3 L423.3 185.6 L418.6 190.2 M426.4 174.8 L432.6 176.6 L434.2 182.9 L429.5 187.4 M437.3 172.1 L443.6 173.8 L445.2 180.2 L440.5 184.7 M448.3 169.3 L454.6 171.1 L456.2 177.4 L451.5 182.0 M459.3 166.6 L465.5 168.4 L467.1 174.7 L462.4 179.2 M470.2 163.8 L476.5 165.6 L478.1 172.0 L473.4 176.5 M481.2 161.1 L487.5 162.9 L489.0 169.2 L484.4 173.8 M492.2 158.4 L498.4 160.2 L500.0 166.5 L495.3 171.0 M503.1 155.6 L509.4 157.4 L511.0 163.8 L506.3 168.3 M514.1 152.9 L520.4 154.7 L521.9 161.0 L517.2 165.6 M525.1 150.2 L531.3 152.0 L532.9 158.3 L528.2 162.8 M536.0 147.4 L542.3 149.2 L543.9 155.6 L539.2 160.1 M423.3 185.6 L429.5 187.4 L431.1 193.8 L426.4 198.3 M434.2 182.9 L440.5 184.7 L442.1 191.0 L437.4 195.6 M445.2 180.2 L451.5 182.0 L453.0 188.3 L448.3 192.8 M456.2 177.4 L462.4 179.2 L464.0 185.6 L459.3 190.1 M467.1 174.7 L473.4 176.5 L475.0 182.8 L470.3 187.4 M478.1 172.0 L484.4 173.8 L485.9 180.1 L481.2 184.6 M489.0 169.2 L495.3 171.0 L496.9 177.4 L492.2 181.9 M500.0 166.5 L506.3 168.3 L507.9 174.6 L503.2 179.2 M511.0 163.8 L517.2 165.6 L518.8 171.9 L514.1 176.4 M521.9 161.0 L528.2 162.8 L529.8 169.2 L525.1 173.7 M532.9 158.3 L539.2 160.1 L540.8 166.4 L536.1 171.0 M420.1 196.5 L426.4 198.3 L428.0 204.6 L423.3 209.2 M431.1 193.8 L437.4 195.6 L439.0 201.9 L434.3 206.4 M442.1 191.0 L448.3 192.8 L449.9 199.2 L445.2 203.7 M453.0 188.3 L459.3 190.1 L460.9 196.4 L456.2 201.0 M464.0 185.6 L470.3 187.4 L471.9 193.7 L467.2 198.2 M475.0 182.8 L481.2 184.6 L482.8 191.0 L478.1 195.5 M485.9 180.1 L492.2 181.9 L493.8 188.2 L489.1 192.8 M496.9 177.4 L503.2 179.2 L504.7 185.5 L500.1 190.0 M507.9 174.6 L514.1 176.4 L515.7 182.8 L511.0 187.3 M518.8 171.9 L525.1 173.7 L526.7 180.0 L522.0 184.6 M529.8 169.2 L536.1 171.0 L537.6 177.3 L532.9 181.8 M540.8 166.4 L547.0 168.2 L548.6 174.6 L543.9 179.1 M428.0 204.6 L434.3 206.4 L435.8 212.8 L431.1 217.3 M439.0 201.9 L445.2 203.7 L446.8 210.0 L442.1 214.6 M449.9 199.2 L456.2 201.0 L457.8 207.3 L453.1 211.8 M460.9 196.4 L467.2 198.2 L468.7 204.6 L464.0 209.1 M471.9 193.7 L478.1 195.5 L479.7 201.8 L475.0 206.4 M482.8 191.0 L489.1 192.8 L490.7 199.1 L486.0 203.6 M493.8 188.2 L500.1 190.0 L501.6 196.4 L496.9 200.9 M504.7 185.5 L511.0 187.3 L512.6 193.6 L507.9 198.2 M515.7 182.8 L522.0 184.6 L523.6 190.9 L518.9 195.4 M526.7 180.0 L532.9 181.8 L534.5 188.2 L529.8 192.7 M537.6 177.3 L543.9 179.1 L545.5 185.4 L540.8 190.0 M424.9 215.5 L431.1 217.3 L432.7 223.6 L428.0 228.2 M435.8 212.8 L442.1 214.6 L443.7 220.9 L439.0 225.4 M446.8 210.0 L453.1 211.8 L454.7 218.2 L450.0 222.7 M457.8 207.3 L464.0 209.1 L465.6 215.4 L460.9 220.0 M468.7 204.6 L475.0 206.4 L476.6 212.7 L471.9 217.2 M479.7 201.8 L486.0 203.6 L487.5 210.0 L482.9 214.5 M490.7 199.1 L496.9 200.9 L498.5 207.2 L493.8 211.8 M501.6 196.4 L507.9 198.2 L509.5 204.5 L504.8 209.0 M512.6 193.6 L518.9 195.4 L520.4 201.8 L515.7 206.3 M523.6 190.9 L529.8 192.7 L531.4 199.0 L526.7 203.6 M534.5 188.2 L540.8 190.0 L542.4 196.3 L537.7 200.8 M545.5 185.4 L551.8 187.2 L553.3 193.6 L548.6 198.1 M432.7 223.6 L439.0 225.4 L440.6 231.8 L435.9 236.3 M443.7 220.9 L450.0 222.7 L451.5 229.0 L446.8 233.6 M454.7 218.2 L460.9 220.0 L462.5 226.3 L457.8 230.8 M465.6 215.4 L471.9 217.2 L473.5 223.6 L468.8 228.1 M476.6 212.7 L482.9 214.5 L484.4 220.8 L479.7 225.4 M487.5 210.0 L493.8 211.8 L495.4 218.1 L490.7 222.6 M498.5 207.2 L504.8 209.0 L506.4 215.4 L501.7 219.9 M509.5 204.5 L515.7 206.3 L517.3 212.6 L512.6 217.2 M520.4 201.8 L526.7 203.6 L528.3 209.9 L523.6 214.4 M531.4 199.0 L537.7 200.8 L539.3 207.2 L534.6 211.7 M542.4 196.3 L548.6 198.1 L550.2 204.4 L545.5 209.0 M429.6 234.5 L435.9 236.3 L437.5 242.6 L432.8 247.2 M440.6 231.8 L446.8 233.6 L448.4 239.9 L443.7 244.4 M451.5 229.0 L457.8 230.8 L459.4 237.2 L454.7 241.7 M462.5 226.3 L468.8 228.1 L470.4 234.4 L465.7 238.9 M473.5 223.6 L479.7 225.4 L481.3 231.7 L476.6 236.2 M484.4 220.8 L490.7 222.6 L492.3 229.0 L487.6 233.5 M495.4 218.1 L501.7 219.9 L503.2 226.2 L498.6 230.7 M506.4 215.4 L512.6 217.2 L514.2 223.5 L509.5 228.0 M517.3 212.6 L523.6 214.4 L525.2 220.7 L520.5 225.3 M528.3 209.9 L534.6 211.7 L536.1 218.0 L531.4 222.5 M539.3 207.2 L545.5 209.0 L547.1 215.3 L542.4 219.8 M550.2 204.4 L556.5 206.2 L558.1 212.5 L553.4 217.1 M437.5 242.6 L443.7 244.4 L445.3 250.7 L440.6 255.3 M448.4 239.9 L454.7 241.7 L456.3 248.0 L451.6 252.5 M459.4 237.2 L465.7 238.9 L467.2 245.3 L462.5 249.8 M470.4 234.4 L476.6 236.2 L478.2 242.5 L473.5 247.1 M481.3 231.7 L487.6 233.5 L489.2 239.8 L484.5 244.3 M492.3 229.0 L498.6 230.7 L500.1 237.1 L495.4 241.6 M503.2 226.2 L509.5 228.0 L511.1 234.3 L506.4 238.9 M514.2 223.5 L520.5 225.3 L522.1 231.6 L517.4 236.1 M525.2 220.7 L531.4 222.5 L533.0 228.9 L528.3 233.4 M536.1 218.0 L542.4 219.8 L544.0 226.1 L539.3 230.7 M547.1 215.3 L553.4 217.1 L555.0 223.4 L550.3 227.9" fill="none" stroke="#1a1a1a" stroke-width="0.7" stroke-linejoin="round"/>
<clipPath id="h3"><path d="M785 188 H830 V212 H785 Z M859 188 H904 V212 H859 Z"/></clipPath>
<path clip-path="url(#h3)" d="M751.4 172.3 L757.7 174.0 L759.3 180.4 L754.6 184.9 M762.4 169.5 L768.7 171.3 L770.3 177.6 L765.6 182.2 M773.4 166.8 L779.6 168.6 L781.2 174.9 L776.5 179.4 M784.3 164.1 L790.6 165.8 L792.2 172.2 L787.5 176.7 M795.3 161.3 L801.6 163.1 L803.2 169.4 L798.5 174.0 M806.3 158.6 L812.5 160.4 L814.1 166.7 L809.4 171.2 M817.2 155.8 L823.5 157.6 L825.1 164.0 L820.4 168.5 M828.2 153.1 L834.5 154.9 L836.0 161.2 L831.4 165.8 M839.2 150.4 L845.4 152.2 L847.0 158.5 L842.3 163.0 M850.1 147.6 L856.4 149.4 L858.0 155.8 L853.3 160.3 M861.1 144.9 L867.4 146.7 L868.9 153.0 L864.2 157.6 M872.1 142.2 L878.3 144.0 L879.9 150.3 L875.2 154.8 M883.0 139.4 L889.3 141.2 L890.9 147.6 L886.2 152.1 M894.0 136.7 L900.3 138.5 L901.8 144.8 L897.1 149.4 M904.9 134.0 L911.2 135.8 L912.8 142.1 L908.1 146.6 M759.3 180.4 L765.6 182.2 L767.1 188.5 L762.5 193.0 M770.3 177.6 L776.5 179.4 L778.1 185.8 L773.4 190.3 M781.2 174.9 L787.5 176.7 L789.1 183.0 L784.4 187.6 M792.2 172.2 L798.5 174.0 L800.0 180.3 L795.3 184.8 M803.2 169.4 L809.4 171.2 L811.0 177.6 L806.3 182.1 M814.1 166.7 L820.4 168.5 L822.0 174.8 L817.3 179.4 M825.1 164.0 L831.4 165.8 L832.9 172.1 L828.2 176.6 M836.0 161.2 L842.3 163.0 L843.9 169.4 L839.2 173.9 M847.0 158.5 L853.3 160.3 L854.9 166.6 L850.2 171.2 M858.0 155.8 L864.2 157.6 L865.8 163.9 L861.1 168.4 M868.9 153.0 L875.2 154.8 L876.8 161.2 L872.1 165.7 M879.9 150.3 L886.2 152.1 L887.8 158.4 L883.1 163.0 M890.9 147.6 L897.1 149.4 L898.7 155.7 L894.0 160.2 M901.8 144.8 L908.1 146.6 L909.7 153.0 L905.0 157.5 M912.8 142.1 L919.1 143.9 L920.6 150.2 L916.0 154.8 M756.2 191.2 L762.5 193.0 L764.0 199.4 L759.3 203.9 M767.1 188.5 L773.4 190.3 L775.0 196.6 L770.3 201.2 M778.1 185.8 L784.4 187.6 L786.0 193.9 L781.3 198.4 M789.1 183.0 L795.3 184.8 L796.9 191.2 L792.2 195.7 M800.0 180.3 L806.3 182.1 L807.9 188.4 L803.2 193.0 M811.0 177.6 L817.3 179.4 L818.9 185.7 L814.2 190.2 M822.0 174.8 L828.2 176.6 L829.8 183.0 L825.1 187.5 M832.9 172.1 L839.2 173.9 L840.8 180.2 L836.1 184.8 M843.9 169.4 L850.2 171.2 L851.7 177.5 L847.1 182.0 M854.9 166.6 L861.1 168.4 L862.7 174.8 L858.0 179.3 M865.8 163.9 L872.1 165.7 L873.7 172.0 L869.0 176.6 M876.8 161.2 L883.1 163.0 L884.6 169.3 L879.9 173.8 M887.8 158.4 L894.0 160.2 L895.6 166.6 L890.9 171.1 M898.7 155.7 L905.0 157.5 L906.6 163.8 L901.9 168.4 M909.7 153.0 L916.0 154.8 L917.5 161.1 L912.8 165.6 M764.0 199.4 L770.3 201.2 L771.9 207.5 L767.2 212.0 M775.0 196.6 L781.3 198.4 L782.8 204.8 L778.1 209.3 M786.0 193.9 L792.2 195.7 L793.8 202.0 L789.1 206.6 M796.9 191.2 L803.2 193.0 L804.8 199.3 L800.1 203.8 M807.9 188.4 L814.2 190.2 L815.7 196.6 L811.0 201.1 M818.9 185.7 L825.1 187.5 L826.7 193.8 L822.0 198.4 M829.8 183.0 L836.1 184.8 L837.7 191.1 L833.0 195.6 M840.8 180.2 L847.1 182.0 L848.6 188.4 L843.9 192.9 M851.7 177.5 L858.0 179.3 L859.6 185.6 L854.9 190.2 M862.7 174.8 L869.0 176.6 L870.6 182.9 L865.9 187.4 M873.7 172.0 L879.9 173.8 L881.5 180.2 L876.8 184.7 M884.6 169.3 L890.9 171.1 L892.5 177.4 L887.8 182.0 M895.6 166.6 L901.9 168.4 L903.5 174.7 L898.8 179.2 M906.6 163.8 L912.8 165.6 L914.4 172.0 L909.7 176.5 M917.5 161.1 L923.8 162.9 L925.4 169.2 L920.7 173.8 M760.9 210.2 L767.2 212.0 L768.8 218.4 L764.1 222.9 M771.9 207.5 L778.1 209.3 L779.7 215.6 L775.0 220.2 M782.8 204.8 L789.1 206.6 L790.7 212.9 L786.0 217.4 M793.8 202.0 L800.1 203.8 L801.7 210.2 L797.0 214.7 M804.8 199.3 L811.0 201.1 L812.6 207.4 L807.9 212.0 M815.7 196.6 L822.0 198.4 L823.6 204.7 L818.9 209.2 M826.7 193.8 L833.0 195.6 L834.5 202.0 L829.9 206.5 M837.7 191.1 L843.9 192.9 L845.5 199.2 L840.8 203.8 M848.6 188.4 L854.9 190.2 L856.5 196.5 L851.8 201.0 M859.6 185.6 L865.9 187.4 L867.4 193.8 L862.7 198.3 M870.6 182.9 L876.8 184.7 L878.4 191.0 L873.7 195.6 M881.5 180.2 L887.8 182.0 L889.4 188.3 L884.7 192.8 M892.5 177.4 L898.8 179.2 L900.3 185.6 L895.6 190.1 M903.5 174.7 L909.7 176.5 L911.3 182.8 L906.6 187.4 M914.4 172.0 L920.7 173.8 L922.3 180.1 L917.6 184.6 M768.8 218.4 L775.0 220.2 L776.6 226.5 L771.9 231.0 M779.7 215.6 L786.0 217.4 L787.6 223.8 L782.9 228.3 M790.7 212.9 L797.0 214.7 L798.5 221.0 L793.8 225.6 M801.7 210.2 L807.9 212.0 L809.5 218.3 L804.8 222.8 M812.6 207.4 L818.9 209.2 L820.5 215.6 L815.8 220.1 M823.6 204.7 L829.9 206.5 L831.4 212.8 L826.7 217.4 M834.5 202.0 L840.8 203.8 L842.4 210.1 L837.7 214.6 M845.5 199.2 L851.8 201.0 L853.4 207.4 L848.7 211.9 M856.5 196.5 L862.7 198.3 L864.3 204.6 L859.6 209.2 M867.4 193.8 L873.7 195.6 L875.3 201.9 L870.6 206.4 M878.4 191.0 L884.7 192.8 L886.3 199.2 L881.6 203.7 M889.4 188.3 L895.6 190.1 L897.2 196.4 L892.5 201.0 M900.3 185.6 L906.6 187.4 L908.2 193.7 L903.5 198.2 M911.3 182.8 L917.6 184.6 L919.1 191.0 L914.5 195.5 M922.3 180.1 L928.5 181.9 L930.1 188.2 L925.4 192.8 M765.6 229.2 L771.9 231.0 L773.5 237.4 L768.8 241.9 M776.6 226.5 L782.9 228.3 L784.5 234.6 L779.8 239.2 M787.6 223.8 L793.8 225.6 L795.4 231.9 L790.7 236.4 M798.5 221.0 L804.8 222.8 L806.4 229.2 L801.7 233.7 M809.5 218.3 L815.8 220.1 L817.4 226.4 L812.7 230.9 M820.5 215.6 L826.7 217.4 L828.3 223.7 L823.6 228.2 M831.4 212.8 L837.7 214.6 L839.3 221.0 L834.6 225.5 M842.4 210.1 L848.7 211.9 L850.2 218.2 L845.6 222.7 M853.4 207.4 L859.6 209.2 L861.2 215.5 L856.5 220.0 M864.3 204.6 L870.6 206.4 L872.2 212.7 L867.5 217.3 M875.3 201.9 L881.6 203.7 L883.1 210.0 L878.4 214.5 M886.3 199.2 L892.5 201.0 L894.1 207.3 L889.4 211.8 M897.2 196.4 L903.5 198.2 L905.1 204.5 L900.4 209.1 M908.2 193.7 L914.5 195.5 L916.0 201.8 L911.3 206.3 M919.1 191.0 L925.4 192.8 L927.0 199.1 L922.3 203.6 M773.5 237.4 L779.8 239.2 L781.3 245.5 L776.7 250.0 M784.5 234.6 L790.7 236.4 L792.3 242.7 L787.6 247.3 M795.4 231.9 L801.7 233.7 L803.3 240.0 L798.6 244.5 M806.4 229.2 L812.7 230.9 L814.2 237.3 L809.5 241.8 M817.4 226.4 L823.6 228.2 L825.2 234.5 L820.5 239.1 M828.3 223.7 L834.6 225.5 L836.2 231.8 L831.5 236.3 M839.3 221.0 L845.6 222.7 L847.1 229.1 L842.4 233.6 M850.2 218.2 L856.5 220.0 L858.1 226.3 L853.4 230.9 M861.2 215.5 L867.5 217.3 L869.1 223.6 L864.4 228.1 M872.2 212.7 L878.4 214.5 L880.0 220.9 L875.3 225.4 M883.1 210.0 L889.4 211.8 L891.0 218.1 L886.3 222.7 M894.1 207.3 L900.4 209.1 L902.0 215.4 L897.3 219.9 M905.1 204.5 L911.3 206.3 L912.9 212.7 L908.2 217.2 M916.0 201.8 L922.3 203.6 L923.9 209.9 L919.2 214.5 M927.0 199.1 L933.3 200.9 L934.8 207.2 L930.2 211.7 M770.4 248.2 L776.7 250.0 L778.2 256.3 L773.5 260.9 M781.3 245.5 L787.6 247.3 L789.2 253.6 L784.5 258.1 M792.3 242.7 L798.6 244.5 L800.2 250.9 L795.5 255.4 M803.3 240.0 L809.5 241.8 L811.1 248.1 L806.4 252.7 M814.2 237.3 L820.5 239.1 L822.1 245.4 L817.4 249.9 M825.2 234.5 L831.5 236.3 L833.1 242.7 L828.4 247.2 M836.2 231.8 L842.4 233.6 L844.0 239.9 L839.3 244.5 M847.1 229.1 L853.4 230.9 L855.0 237.2 L850.3 241.7 M858.1 226.3 L864.4 228.1 L865.9 234.5 L861.3 239.0 M869.1 223.6 L875.3 225.4 L876.9 231.7 L872.2 236.3 M880.0 220.9 L886.3 222.7 L887.9 229.0 L883.2 233.5 M891.0 218.1 L897.3 219.9 L898.8 226.3 L894.1 230.8 M902.0 215.4 L908.2 217.2 L909.8 223.5 L905.1 228.1 M912.9 212.7 L919.2 214.5 L920.8 220.8 L916.1 225.3 M923.9 209.9 L930.2 211.7 L931.7 218.1 L927.0 222.6 M778.2 256.3 L784.5 258.1 L786.1 264.5 L781.4 269.0 M789.2 253.6 L795.5 255.4 L797.0 261.7 L792.4 266.3 M800.2 250.9 L806.4 252.7 L808.0 259.0 L803.3 263.5 M811.1 248.1 L817.4 249.9 L819.0 256.3 L814.3 260.8 M822.1 245.4 L828.4 247.2 L829.9 253.5 L825.2 258.1 M833.1 242.7 L839.3 244.5 L840.9 250.8 L836.2 255.3 M844.0 239.9 L850.3 241.7 L851.9 248.1 L847.2 252.6 M855.0 237.2 L861.3 239.0 L862.8 245.3 L858.1 249.9 M865.9 234.5 L872.2 236.3 L873.8 242.6 L869.1 247.1 M876.9 231.7 L883.2 233.5 L884.8 239.9 L880.1 244.4 M887.9 229.0 L894.1 230.8 L895.7 237.1 L891.0 241.7 M898.8 226.3 L905.1 228.1 L906.7 234.4 L902.0 238.9 M909.8 223.5 L916.1 225.3 L917.7 231.7 L913.0 236.2 M920.8 220.8 L927.0 222.6 L928.6 228.9 L923.9 233.5 M931.7 218.1 L938.0 219.9 L939.6 226.2 L934.9 230.7" fill="none" stroke="#1a1a1a" stroke-width="0.7" stroke-linejoin="round"/>
<path d="M0 90.3 L151.9 119.3 L172.7 2.1" fill="none" stroke="#444" stroke-width="0.7"/>
<path d="M0 119.4 L91.2 136.2" fill="none" stroke="#444" stroke-width="0.7"/>
<path d="M91 136.2 V1092 H121" fill="none" stroke="#777" stroke-width="1"/>
<path d="M200.9 7.7 L173.1 152.1 L119.5 141.7 V212" fill="none" stroke="#444" stroke-width="0.7"/>
<path d="M119.6 212 V1092" fill="none" stroke="#555" stroke-width="0.5"/>
<path d="M122 1092 V212.3 H298" fill="none" stroke="#aaa" stroke-width="1.2"/>
<path d="M470.9 191 V1.2 H932" fill="none" stroke="#808080" stroke-width="2.3"/>
<path d="M475 191 V5.6 H932" fill="none" stroke="#8c8c8c" stroke-width="1.4"/>
<path d="M301.4 185 H444" fill="none" stroke="#999" stroke-width="1.3"/>
<path d="M303 212.1 H440 M301 219.2 H444" fill="none" stroke="#a6a6a6" stroke-width="1.3"/>
<path d="M306 215.5 H438.4" fill="none" stroke="#777" stroke-width="1.1"/>
<path d="M306 212.1 V219.2 M438.4 212.1 V219.2" fill="none" stroke="#999" stroke-width="1.2"/>
<path d="M527 212.1 H787 M524 219.2 H789" fill="none" stroke="#a6a6a6" stroke-width="1.3"/>
<path d="M537.4 215.5 H648.6 M662.7 215.5 H780.7" fill="none" stroke="#777" stroke-width="1.1"/>
<path d="M530.5 212.1 V219.2 M537.4 212.1 V219.2 M648.6 212.1 V219.2 M655.2 212.1 V219.2 M662.7 212.1 V219.2 M780.7 212.1 V219.2" fill="none" stroke="#999" stroke-width="1.2"/>
<path d="M905 212.1 H932 M902 219.2 H932" fill="none" stroke="#a6a6a6" stroke-width="1.3"/>
<path d="M908.5 215.5 H932" fill="none" stroke="#777" stroke-width="1.1"/>
<path d="M908.5 212.1 V219.2" fill="none" stroke="#999" stroke-width="1.2"/>
<path d="M446 212.2 H523 M788 212.2 H900" fill="none" stroke="#bbb" stroke-width="1"/>
<rect x="345.1" y="240.5" width="118.7" height="76.9" fill="none" stroke="#727272" stroke-width="1"/>
<path d="M399.6 268.6 A16.9 16.9 0 1 1 431.8 268.6" fill="none" stroke="#727272" stroke-width="1"/>
<path d="M424 250.6 Q436 257 437.6 268.6 M428 253.5 Q433 259 433.2 268.6" fill="none" stroke="#727272" stroke-width="0.8"/>
<circle cx="415.4" cy="262.9" r="6" fill="#8c8c8c" stroke="#666" stroke-width="1"/>
<circle cx="415.4" cy="262.9" r="3.6" fill="none" stroke="#b5b5b5" stroke-width="0.9"/>
<rect x="413.9" y="260.6" width="3" height="8" rx="1.4" fill="#fff" stroke="#777" stroke-width="0.5"/>
<rect x="383.1" y="268.5" width="65.3" height="17.1" fill="#b4b4b4" stroke="#777" stroke-width="0.8"/>
<rect x="385.4" y="271.3" width="60.9" height="11.9" fill="#fff" stroke="#777" stroke-width="0.5"/>
<path d="M434.5 285.6 V291.5 M441 285.6 Q444.5 293.5 448 295" fill="none" stroke="#727272" stroke-width="0.8"/>
<ellipse cx="450.2" cy="297.6" rx="2.9" ry="3.9" fill="#fff" stroke="#727272" stroke-width="1"/>
<path d="M397.5 290.8 H436.5" fill="none" stroke="#8a8a8a" stroke-width="1.1"/>
<path d="M396.5 292 H437 Q440.4 293.4 440.4 297 V309 Q440.4 311 438 311 H395 Q392.8 311 392.8 309 V297 Q392.8 293.4 396.5 292 Z" fill="#fff" stroke="#6e6e6e" stroke-width="0.9"/>
<rect x="393.6" y="295.6" width="46" height="14.8" fill="#c2c2c2" stroke="none"/>
<path d="M394.2 297.3 H433.4 M394.2 300.3 H433.4 M394.2 303.3 H433.4 M394.2 306.3 H433.4 M394.2 309.1 H433.4" stroke="#6c6c6c" stroke-width="1.9" stroke-dasharray="1.7 0.6" fill="none"/>
<path d="M402.5 294 H410.5" stroke="#555" stroke-width="1" fill="none"/>
<rect x="434.3" y="296.2" width="5.4" height="14" fill="#858585" stroke="none"/>
<path d="M435 294.6 H439.6" stroke="#444" stroke-width="1.3" fill="none"/>
<rect x="427.2" y="303.6" width="5.8" height="5" fill="#f6f6f6" stroke="none"/>
<rect x="423.2" y="301.6" width="2.6" height="2.8" fill="#f6f6f6" stroke="none"/>
<rect x="428.9" y="305.8" width="2.6" height="2.8" fill="#666" stroke="none"/>
<path d="M392 311.3 H431.6 Q435.6 311.3 435.6 315.3 V344 Q435.6 358.8 420 358.8 H403.6 Q388 358.8 388 344 V315.3 Q388 311.3 392 311.3 Z" fill="#fff" stroke="#727272" stroke-width="1"/>
<path d="M388.5 316.6 H435" fill="none" stroke="#727272" stroke-width="0.7"/>
<rect x="380" y="324" width="6.6" height="29" rx="3.2" fill="#fff" stroke="#727272" stroke-width="1"/>
<rect x="437" y="324" width="6.8" height="29" rx="3.2" fill="#fff" stroke="#727272" stroke-width="1"/>
<path d="M386.6 330 H388 M386.6 345 H388 M435.6 330 H437 M435.6 345 H437" fill="none" stroke="#727272" stroke-width="1"/>
<path d="M393.5 357 Q391.5 361 392.5 364.5 Q400 371 412 371 Q424 371 431.5 364.5 Q432.5 361 430.5 357" fill="none" stroke="#727272" stroke-width="1"/>
<path d="M394 362.5 Q412 370 430 362.5 M396 358.6 Q412 363.5 428 358.6" fill="none" stroke="#727272" stroke-width="0.7"/>
<path d="M408 371.3 H416" stroke="#666" stroke-width="1.2"/>
<rect x="152.5" y="343.4" width="45.1" height="47.5" fill="none" stroke="#727272" stroke-width="1"/>
<circle cx="165.9" cy="370.7" r="11.8" fill="none" stroke="#727272" stroke-width="1"/>
<circle cx="165.9" cy="370.7" r="9" fill="none" stroke="#727272" stroke-width="1"/>
<circle cx="165.9" cy="370.7" r="6" fill="none" stroke="#727272" stroke-width="1"/>
<rect x="152.5" y="560.9" width="45.1" height="47.5" fill="none" stroke="#727272" stroke-width="1"/>
<circle cx="165.9" cy="581.7" r="11.8" fill="none" stroke="#727272" stroke-width="1"/>
<circle cx="165.9" cy="581.7" r="9" fill="none" stroke="#727272" stroke-width="1"/>
<circle cx="165.9" cy="581.7" r="6" fill="none" stroke="#727272" stroke-width="1"/>
<path d="M197.6 391 H386.9 V560.9 H197.6" fill="none" stroke="#727272" stroke-width="1"/>
<g><path d="M155.3 394.7 Q179.1 398.9 204.7 396.9 Q201.9 433.2 205.8 467.2 Q179.1 466.7 156.2 469.5 Q159.5 433.2 155.3 394.7 Z" fill="none" stroke="#727272" stroke-width="1"/><path d="M204.2 396.4 Q251.6 393.6 296.2 395.8 T381.6 394.2 Q384.4 433.2 381.6 471.1 Q340.8 472.8 303.2 470.6 Q300.4 473.4 297.6 471.1 Q251.6 473.4 204.7 471.7 Q201.4 433.2 204.2 396.4 Z" fill="none" stroke="#727272" stroke-width="1"/><path d="M168.7 402.5 L174.9 410.9 L179.1 426.2" fill="none" stroke="#727272" stroke-width="0.8"/><path d="M186.9 402.0 L183.8 410.9 L183.8 423.4" fill="none" stroke="#727272" stroke-width="0.8"/><path d="M169.3 444.4 L181.8 452.7 L184.6 466.7" fill="none" stroke="#727272" stroke-width="0.8"/><path d="M174.9 443.0 L181.3 448.5 L182.4 458.3 L185.5 468.1" fill="none" stroke="#727272" stroke-width="0.8"/><path d="M248.2 401.7 L251.6 419.3 L256.6 436.0" fill="none" stroke="#727272" stroke-width="0.8"/><path d="M251.6 401.7 L259.9 419.3 L264.1 420.7 L271.1 427.6 L276.7 429.9 L275.3 434.6" fill="none" stroke="#727272" stroke-width="0.8"/><path d="M258.5 401.1 L262.7 405.3 L293.4 425.7" fill="none" stroke="#727272" stroke-width="0.8"/><path d="M312.4 441.6 L311.5 449.9 L303.2 461.1 L303.2 471.1" fill="none" stroke="#727272" stroke-width="0.8"/><path d="M327.4 443.0 L317.1 451.3 L307.4 469.5" fill="none" stroke="#727272" stroke-width="0.8"/></g>
<g transform="translate(0 951.2) scale(1 -1)"><path d="M155.3 394.7 Q179.1 398.9 204.7 396.9 Q201.9 433.2 205.8 467.2 Q179.1 466.7 156.2 469.5 Q159.5 433.2 155.3 394.7 Z" fill="none" stroke="#727272" stroke-width="1"/><path d="M204.2 396.4 Q251.6 393.6 296.2 395.8 T381.6 394.2 Q384.4 433.2 381.6 471.1 Q340.8 472.8 303.2 470.6 Q300.4 473.4 297.6 471.1 Q251.6 473.4 204.7 471.7 Q201.4 433.2 204.2 396.4 Z" fill="none" stroke="#727272" stroke-width="1"/><path d="M168.7 402.5 L174.9 410.9 L179.1 426.2" fill="none" stroke="#727272" stroke-width="0.8"/><path d="M186.9 402.0 L183.8 410.9 L183.8 423.4" fill="none" stroke="#727272" stroke-width="0.8"/><path d="M169.3 444.4 L181.8 452.7 L184.6 466.7" fill="none" stroke="#727272" stroke-width="0.8"/><path d="M174.9 443.0 L181.3 448.5 L182.4 458.3 L185.5 468.1" fill="none" stroke="#727272" stroke-width="0.8"/><path d="M248.2 401.7 L251.6 419.3 L256.6 436.0" fill="none" stroke="#727272" stroke-width="0.8"/><path d="M251.6 401.7 L259.9 419.3 L264.1 420.7 L271.1 427.6 L276.7 429.9 L275.3 434.6" fill="none" stroke="#727272" stroke-width="0.8"/><path d="M258.5 401.1 L262.7 405.3 L293.4 425.7" fill="none" stroke="#727272" stroke-width="0.8"/><path d="M312.4 441.6 L311.5 449.9 L303.2 461.1 L303.2 471.1" fill="none" stroke="#727272" stroke-width="0.8"/><path d="M327.4 443.0 L317.1 451.3 L307.4 469.5" fill="none" stroke="#727272" stroke-width="0.8"/></g>
<path d="M153 648.3 H326 M153 648.3 L326 715 M153 715 L326 648.3" fill="none" stroke="#727272" stroke-width="0.8"/>
<path d="M478.8 246.4 H521.4 V646.6 H478.8 M478.8 381.8 H521.4 M478.8 511.4 H521.4" fill="none" stroke="#727272" stroke-width="1"/>
<rect x="485.3" y="381.8" width="5.3" height="129.6" fill="none" stroke="#727272" stroke-width="1"/>
<path d="M479.2 387.40 H485.3 M479.2 388.86 H485.3 M479.2 390.32 H485.3 M479.2 391.78 H485.3 M479.2 393.24 H485.3 M479.2 394.70 H485.3 M479.2 396.16 H485.3 M479.2 397.62 H485.3 M479.2 399.08 H485.3 M479.2 400.54 H485.3 M479.2 402.00 H485.3 M479.2 403.46 H485.3 M479.2 404.92 H485.3 M479.2 406.38 H485.3 M479.2 407.84 H485.3 M479.2 409.30 H485.3 M479.2 410.76 H485.3 M479.2 412.22 H485.3 M479.2 413.68 H485.3 M479.2 415.14 H485.3 M479.2 416.60 H485.3 M479.2 418.06 H485.3 M479.2 419.52 H485.3 M479.2 420.98 H485.3 M479.2 422.44 H485.3 M479.2 423.90 H485.3 M479.2 425.36 H485.3 M479.2 426.82 H485.3 M479.2 428.28 H485.3 M479.2 429.74 H485.3 M479.2 431.20 H485.3 M479.2 432.66 H485.3 M479.2 434.12 H485.3 M479.2 435.58 H485.3 M479.2 437.04 H485.3 M479.2 438.50 H485.3 M479.2 439.96 H485.3 M479.2 441.42 H485.3 M479.2 442.88 H485.3 M479.2 444.34 H485.3 M479.2 445.80 H485.3 M479.2 447.26 H485.3 M479.2 448.72 H485.3 M479.2 450.18 H485.3 M479.2 451.64 H485.3 M479.2 453.10 H485.3 M479.2 454.56 H485.3 M479.2 456.02 H485.3 M479.2 457.48 H485.3 M479.2 458.94 H485.3 M479.2 460.40 H485.3 M479.2 461.86 H485.3 M479.2 463.32 H485.3 M479.2 464.78 H485.3 M479.2 466.24 H485.3 M479.2 467.70 H485.3 M479.2 469.16 H485.3 M479.2 470.62 H485.3 M479.2 472.08 H485.3 M479.2 473.54 H485.3 M479.2 475.00 H485.3 M479.2 476.46 H485.3 M479.2 477.92 H485.3 M479.2 479.38 H485.3 M479.2 480.84 H485.3 M479.2 482.30 H485.3 M479.2 483.76 H485.3 M479.2 485.22 H485.3 M479.2 486.68 H485.3 M479.2 488.14 H485.3 M479.2 489.60 H485.3 M479.2 491.06 H485.3 M479.2 492.52 H485.3 M479.2 493.98 H485.3 M479.2 495.44 H485.3 M479.2 496.90 H485.3 M479.2 498.36 H485.3 M479.2 499.82 H485.3 M479.2 501.28 H485.3 M479.2 502.74 H485.3 M479.2 504.20 H485.3" fill="none" stroke="#8a8a8a" stroke-width="0.62"/>
<path d="M479 388.3 L485.3 386.4 M479 504.6 L485.3 506.2" fill="none" stroke="#999" stroke-width="0.6"/>
<g id="mir"><path d="M636 289.2 H555.5 V548.7 H778.6 V504" fill="none" stroke="#727272" stroke-width="1"/><rect x="612.4" y="383.3" width="71.4" height="71.1" fill="none" stroke="#727272" stroke-width="1"/><path d="M645.7 258 Q686.4 249.8 726.5 257.4 Q724.5 267 719.4 272.7 Q686.4 265.7 651.6 272.7 Q647 267 645.7 258 Z M655.9 275.9 Q687.6 269.5 723 275.4 Q729.6 304 726.7 330 L653.3 331.2 Q651 304 655.9 275.9 Z M651.6 272.7 L655.9 275.9 M719.4 272.7 L723 275.4 M653.3 331.2 V338.2 Q688.7 342.8 726.7 336.5 V330 M639.8 272.5 L652.7 278.6 Q650 305 650.4 332.3 L632.1 326.4 Q633 298 639.8 272.5 Z M643.3 273.9 Q642.5 300 646.8 331.2 M642.1 331 V335 Q644.2 337.6 646.2 335 V332 M726.0 257.5 Q766.2 249.3 807.6 256.6 Q816.2 297.3 807.6 337.5 M726.0 257.5 Q727.9 267.3 733.3 272.9 Q763.8 267.3 794.2 270.5 L807.6 256.6 M794.2 270.5 Q798.4 300.9 790.6 331.4 Q799.1 336.2 807.6 337.5 M729.6 275.3 Q761.3 270.5 791.8 272.9 Q795.9 303.4 789.3 333.8 Q758.9 338.0 728.4 336.2 Q726.7 305.8 729.6 275.3 Z M725.3 338.7 Q756.5 337.0 788.1 341.1 Q795.0 374.0 788.1 408.1 Q756.5 412.5 726.0 410.6 Q721.4 374.0 725.3 338.7 Z M733.3 338.4 L734.0 484.9 M807.6 337.5 Q814.0 374.0 807.6 410.6 M807.6 337.5 Q796.7 338.7 788.1 346.0 M791.3 344.3 Q798.6 374.0 790.6 405.7 Q799.1 409.8 807.6 410.6 M726.0 411.8 Q756.5 410.6 788.1 415.0 Q795.9 447.1 788.1 482.4 Q756.5 486.6 726.7 484.9 Q722.3 447.1 726.0 411.8 Z M807.6 410.6 Q814.4 452.0 807.6 492.2 L791.8 485.6 M807.6 410.6 Q796.7 411.8 788.6 415.9 M791.3 417.9 Q798.6 452.0 791.8 485.6 M732.1 488.5 Q760.1 489.5 786.9 486.1 L793.0 498.3 Q766.2 504.6 739.4 507.5 Z M733.3 493.4 Q761.3 494.9 789.8 491.0 M732.6 493.9 L729.2 493.9 Q727.5 495.4 729.2 496.8 L733.1 496.8" fill="#fff" stroke="#757575" stroke-width="0.95"/><path d="M694.2 615 L696.0 591.5 Q719.5 585 742.9 591.5 L744.9 615 M697.7 600.3 Q719.5 592.2 741.4 600.3" fill="none" stroke="#727272" stroke-width="1"/><path d="M694.2 615 L696.0 591.5 Q719.5 585 742.9 591.5 L744.9 615 M697.7 600.3 Q719.5 592.2 741.4 600.3" fill="none" stroke="#727272" stroke-width="1" transform="translate(0 1318.3) scale(1 -1)"/><path d="M774.3 615 L776.1 591.5 Q799.5 585 822.7 591.5 L824.7 615 M777.8 600.3 Q799.5 592.2 821.2 600.3" fill="none" stroke="#727272" stroke-width="1"/><path d="M774.3 615 L776.1 591.5 Q799.5 585 822.7 591.5 L824.7 615 M777.8 600.3 Q799.5 592.2 821.2 600.3" fill="none" stroke="#727272" stroke-width="1" transform="translate(0 1318.3) scale(1 -1)"/><rect x="688.3" y="615" width="142" height="88.4" fill="#fff" stroke="#727272" stroke-width="1"/><path d="M766.3 1070 V786.6 H830" fill="none" stroke="#727272" stroke-width="1"/><path d="M766.3 857.6 H830 M766.3 929.3 H830" fill="none" stroke="#858585" stroke-width="1.5"/><path d="M830 863.5 H763.3 V923.3 H830" fill="none" stroke="#707070" stroke-width="0.9" stroke-dasharray="4.6 2"/><path d="M830 865.6 H775 Q771.2 865.6 771.2 869 V918 Q771.2 921.4 775 921.4 H830" fill="none" stroke="#7a7a7a" stroke-width="1.4"/><path d="M830 867.6 H776.5 Q773.4 867.6 773.4 870.4 V916.6 Q773.4 919.4 776.5 919.4 H830" fill="none" stroke="#9a9a9a" stroke-width="0.9"/><circle cx="785" cy="882" r="9" fill="none" stroke="#727272" stroke-width="0.9"/><circle cx="813.6" cy="882.3" r="12.4" fill="none" stroke="#727272" stroke-width="0.9"/><circle cx="785.3" cy="907.8" r="10.7" fill="none" stroke="#727272" stroke-width="0.9"/><circle cx="813.6" cy="907.8" r="5.6" fill="none" stroke="#727272" stroke-width="0.9"/><circle cx="813.6" cy="907.8" r="3.3" fill="none" stroke="#727272" stroke-width="0.9"/><circle cx="786.3" cy="882.6" r="2.5" fill="none" stroke="#727272" stroke-width="0.9"/><circle cx="813.6" cy="882.3" r="2.5" fill="none" stroke="#727272" stroke-width="0.9"/><circle cx="785.3" cy="907.8" r="2.5" fill="none" stroke="#727272" stroke-width="0.9"/><path d="M779.8 880 L785.6 886.6 M783.2 878 L785 884.5 M779.8 906.5 L786 900 M771.5 869.5 L777 875.5 M771.5 917.5 L777 910.5" fill="none" stroke="#727272" stroke-width="0.9"/><path d="M790 889 Q795 886 795.5 889.5 M788 891.5 L793 894 L790.5 897 Q797 900 798.5 893" fill="none" stroke="#727272" stroke-width="0.9"/><path d="M767 875 L769.6 869.5 L771 875 Z M767 883.5 L769.6 878.0 L771 883.5 Z M767 892 L769.6 886.5 L771 892 Z M767 900.5 L769.6 895.0 L771 900.5 Z M767 917.5 L769.6 912.0 L771 917.5 Z" fill="#aaa" stroke="#888" stroke-width="0.5"/></g>
<clipPath id="nb"><rect x="861.7" y="0" width="80" height="1149"/></clipPath>
<g clip-path="url(#nb)"><use href="#mir" transform="translate(1689 0) scale(-1 1)"/></g>
<path d="M568.7 1000 H830 M639 1000 V1070 M709.8 1000 V1070" fill="none" stroke="#727272" stroke-width="1"/>
<path d="M647.4 1009.4 H665.4 M673.5 1009.4 h1.4 M683.1 1009.4 H701.1 M650.9 1012.4 H665.4 M673.8 1012.4 h1.4 M683.1 1012.4 H698.2 M650.9 1065 H665.4 M673.8 1065 h1.4 M683.1 1065 H698.2 M647.4 1009.4 V1029.4 M647.4 1037.8 v1.4 M647.4 1047.6 V1067.5 M701.1 1009.4 V1029.4 M701.1 1037.8 v1.4 M701.1 1047.6 V1067.5 M650.9 1012.4 V1029.4 M650.9 1037.8 v1.4 M650.9 1047.6 V1065 M698.2 1012.4 V1029.4 M698.2 1037.8 v1.4 M698.2 1047.6 V1065" fill="none" stroke="#707070" stroke-width="0.8"/>
<path d="M709.8 1007.6 H766.3 M709.8 1058.2 H766.3" fill="none" stroke="#727272" stroke-width="1"/>
<rect x="712.7" y="1011.9" width="51.2" height="42.5" rx="9" fill="none" stroke="#555" stroke-width="1"/>
<path d="M713 1019.5 Q738 1017 763.6 1019.5 M713 1035 Q718 1040 723 1040.8 H753.8 Q759 1040 763.6 1035 M721.8 1012.2 V1040.8 M754.2 1012.2 V1040.8" fill="none" stroke="#727272" stroke-width="0.7"/>
<rect x="722.9" y="1040.8" width="30.9" height="12.2" fill="#808080" stroke="#666" stroke-width="0.6"/>
<circle cx="737.8" cy="1025" r="6.2" fill="none" stroke="#555" stroke-width="1.1"/>
<circle cx="737.8" cy="1025" r="3.6" fill="none" stroke="#555" stroke-width="1.1"/>
<path d="M497.4 1000 V834.6 H568.8 V1000 M497.4 928.6 H568.8 M497.4 941.2 H568.8 M497.4 834.6 L568.8 928.6 M568.8 834.6 L497.4 928.6 M504.5 928.6 V941.2 M507.5 928.6 V941.2 M510 928.6 V941.2 M512.6 928.6 V941.2" fill="none" stroke="#727272" stroke-width="1"/>
<path d="M240.5 735.5 V762.5 A78 78 0 0 1 171.5 829.2 Q160 829.5 153 828" fill="none" stroke="#727272" stroke-width="1"/>
<path d="M164.5 737.4 H227.5 Q235.3 737.4 235.3 745.7 V762.5 A72 72 0 0 1 170.9 823 Q154.8 824.5 154.8 815.3 V746 Q154.8 737.4 164.5 737.4 Z" fill="none" stroke="#727272" stroke-width="1"/>
<path d="M170.9 749 H224.7 M165.8 754.1 V812.4" fill="none" stroke="#9a9a9a" stroke-width="1.2"/>
<path d="M169.6 752.8 L213.8 800.7" fill="none" stroke="#727272" stroke-width="0.8"/>
<circle cx="165.5" cy="749.4" r="4.9" fill="none" stroke="#727272" stroke-width="1"/><circle cx="165.5" cy="749.4" r="3.1" fill="none" stroke="#727272" stroke-width="0.8"/>
<path d="M153.2 845.6 Q166 842.5 179 842.7 Q202 846 202 878.2 Q202 911 180.4 915.5 Q166 915.5 153.2 910.9" fill="none" stroke="#727272" stroke-width="1"/>
<path d="M154 849.6 L166.5 848.2 M154 908.1 L165.8 910.2" fill="none" stroke="#727272" stroke-width="0.7"/>
<ellipse cx="177.6" cy="879.2" rx="19.5" ry="31.7" fill="none" stroke="#727272" stroke-width="1"/>
<circle cx="166.7" cy="879.8" r="4.4" fill="none" stroke="#727272" stroke-width="1"/><circle cx="166.7" cy="879.8" r="2.4" fill="none" stroke="#727272" stroke-width="0.7"/>
<path d="M154.5 865.3 L168 872.3" stroke="#777" stroke-width="3.2" stroke-linecap="round" fill="none"/>
<path d="M154.5 865.3 L168 872.3" stroke="#fff" stroke-width="1.6" stroke-linecap="round" fill="none"/>
<circle cx="159.5" cy="862" r="2.6" fill="#8a8a8a" stroke="#666" stroke-width="0.6"/>
<circle cx="154.8" cy="871.2" r="1.9" fill="#8a8a8a" stroke="#666" stroke-width="0.6"/>
<path d="M153.2 938 Q163 939.8 172 938.8 L206.9 937.4 Q229.8 938.5 229.8 959.7 Q229.8 981 206.9 981.9 L172 980.8 Q163 980 153.2 982" fill="none" stroke="#727272" stroke-width="1"/>
<ellipse cx="161.9" cy="959.7" rx="8" ry="20.9" fill="none" stroke="#727272" stroke-width="1"/>
<ellipse cx="204.4" cy="959.4" rx="20.5" ry="17.1" fill="none" stroke="#727272" stroke-width="1"/>
<path d="M156.6 947.1 H164.6 M160.6 943.1 V951.1 M156.6 972.2 H164.6 M160.6 968.2 V976.2 M155 959.7 H164.6 M159.8 955 V964.4" fill="none" stroke="#727272" stroke-width="0.7"/>
<circle cx="159.8" cy="959.7" r="2" fill="none" stroke="#727272" stroke-width="0.7"/>
<circle cx="176.2" cy="950.3" r="0.8" fill="#666"/><circle cx="176.2" cy="969.4" r="0.8" fill="#666"/>
<path d="M256.4 1070 V1005.5 H325" fill="none" stroke="#5a5a5a" stroke-width="0.75"/>
<rect x="265.7" y="1054" width="19.3" height="9.7" fill="none" stroke="#727272" stroke-width="1"/>
<path d="M275.7 1003 H308.5" fill="none" stroke="#5a5a5a" stroke-width="0.7"/>
<rect x="449.5" y="541.5" width="3.8" height="105" fill="none" stroke="#727272" stroke-width="0.8"/>
<path d="M453.3 541.5 H449.5 A101.5 101.5 0 0 0 349.3 641" fill="none" stroke="#333" stroke-width="0.7"/>
<circle cx="445.59999999999997" cy="550" r="2.4" fill="none" stroke="#727272" stroke-width="0.8"/><circle cx="457.2" cy="550" r="2.4" fill="none" stroke="#727272" stroke-width="0.7"/><path d="M447.4 550 H455.4 M448.79999999999995 547.5 V552.5 M454.0 547.5 V552.5" fill="none" stroke="#727272" stroke-width="0.7"/>
<rect x="350.5" y="644.5" width="2.6" height="5" fill="none" stroke="#727272" stroke-width="0.6"/>
<rect x="449.8" y="643.5" width="2.6" height="6" fill="none" stroke="#727272" stroke-width="0.6"/>
<rect x="327" y="822.8" width="107.8" height="3.4" fill="none" stroke="#727272" stroke-width="0.8"/>
<path d="M434.8 822.8 V826.2 A100 100 0 0 1 333.5 926.6" fill="none" stroke="#333" stroke-width="0.7"/>
<circle cx="426.7" cy="818.7" r="2.4" fill="none" stroke="#727272" stroke-width="0.8"/><circle cx="426.7" cy="830.3" r="2.4" fill="none" stroke="#727272" stroke-width="0.7"/><path d="M426.7 820.5 V828.5 M424.2 821.9 H429.2 M424.2 827.1 H429.2" fill="none" stroke="#727272" stroke-width="0.7"/>
<rect x="327.5" y="925.3" width="5" height="2.6" fill="none" stroke="#727272" stroke-width="0.6"/>
<rect x="469.8" y="958" width="3.4" height="112" fill="none" stroke="#727272" stroke-width="0.8"/>
<path d="M473.2 958 H469.8 A112 112 0 0 0 358.3 1070" fill="none" stroke="#333" stroke-width="0.7"/>
<circle cx="465.8" cy="967" r="2.4" fill="none" stroke="#727272" stroke-width="0.8"/><circle cx="477.40000000000003" cy="967" r="2.4" fill="none" stroke="#727272" stroke-width="0.7"/><path d="M467.6 967 H475.6 M469.0 964.5 V969.5 M474.20000000000005 964.5 V969.5" fill="none" stroke="#727272" stroke-width="0.7"/>
<rect x="358.8" y="1071" width="2.6" height="6" fill="none" stroke="#727272" stroke-width="0.6"/>
<rect x="469.3" y="1071" width="2.6" height="6" fill="none" stroke="#727272" stroke-width="0.6"/>
<path d="M223.6 13 L191 188.2" fill="none" stroke="#1a1a1a" stroke-linejoin="round" stroke-linecap="round" stroke-width="5"/><path d="M191 188.2 H301.4 V212.8" fill="none" stroke="#1a1a1a" stroke-linejoin="round" stroke-linecap="round" stroke-width="5"/>
<path d="M442.8 212.8 V194 H525.8 V212.8" fill="none" stroke="#1a1a1a" stroke-linejoin="round" stroke-linecap="round" stroke-width="6.4"/>
<path d="M785.6 212.6 V188.6 H829" fill="none" stroke="#1a1a1a" stroke-linejoin="round" stroke-linecap="round" stroke-width="4.9"/>
<path d="M860.5 188.6 H903.1 V212.6" fill="none" stroke="#1a1a1a" stroke-linejoin="round" stroke-linecap="round" stroke-width="4.9"/>
<path d="M298 212 L298 240.5 L150 240.5 L150 718.3 L327 718.3 L327 643 L348 643 L348 653 L341.5 653 L341.5 823 L327.5 823 L327.5 732.6 L150 732.6 L150 1006.5 L205.5 1006.5 L205.5 1070.3 L327.8 1070.3 L327.8 928 L341.3 928 L341.3 1070.3 L356 1070.3 L356 1092 L121 1092" fill="none" stroke="#000" stroke-width="5.7" stroke-linejoin="round" stroke-linecap="round"/>
<path d="M522 211.5 L522 240.6 L476 240.6 L476 653 L455.5 653 L455.5 643 L466.6 643 L466.6 240.6 L446.7 240.6 L446.7 211.5" fill="none" stroke="#000" stroke-width="5.7" stroke-linejoin="round" stroke-linecap="round"/>
<path d="M789 212 L789 240.2 L830.5 240.2 L830.5 1070.3 L568.7 1070.3 L568.7 1000 L497 1000 L497 1070.5 L475.4 1070.5 L475.4 1092 L932 1092" fill="none" stroke="#000" stroke-width="5.7" stroke-linejoin="round" stroke-linecap="round"/>
<path d="M899.9 212 L899.9 240.2 L859 240.2 L859 1000 L920 1000 L920 1071 L932 1071" fill="none" stroke="#000" stroke-width="5.7" stroke-linejoin="round" stroke-linecap="round"/>
<rect x="830.2" y="12" width="28.4" height="193.6" fill="none" stroke="#000" stroke-width="3"/>
<path d="M829 205.7 H860" stroke="#000" stroke-width="3.7"/>
<rect x="150" y="1016.4" width="46.5" height="53.6" fill="#fff" stroke="#888" stroke-width="1"/>
<rect x="507" y="1009.4" width="52" height="60" fill="#fff" stroke="#888" stroke-width="1"/>
<rect x="859" y="1009" width="51.5" height="61.6" fill="#fff" stroke="#888" stroke-width="1"/>
<g opacity="0.999">
<text x="243.2" y="298.1" font-family="&quot;Liberation Sans&quot;, sans-serif" font-size="19.5" textLength="68.4" lengthAdjust="spacingAndGlyphs" fill="#000" stroke="#fff" stroke-width="0.22">2.Pokój</text>
<text x="243.2" y="322.2" font-family="&quot;Liberation Sans&quot;, sans-serif" font-size="19.5" textLength="69" lengthAdjust="spacingAndGlyphs" fill="#000" stroke="#fff" stroke-width="0.22">panele</text>
<text x="245.1" y="345.8" font-family="&quot;Liberation Sans&quot;, sans-serif" font-size="19.5" textLength="77.6" lengthAdjust="spacingAndGlyphs" fill="#000" stroke="#fff" stroke-width="0.22">10,09m2</text>
<text x="524.6" y="739.5" font-family="&quot;Liberation Sans&quot;, sans-serif" font-size="19.5" textLength="145.9" lengthAdjust="spacingAndGlyphs" fill="#000" stroke="#fff" stroke-width="0.22">1.Pokój dzienny</text>
<text x="522.8" y="763.9" font-family="&quot;Liberation Sans&quot;, sans-serif" font-size="19.5" textLength="219.8" lengthAdjust="spacingAndGlyphs" fill="#000" stroke="#fff" stroke-width="0.22">z aneksem kuchennym</text>
<text x="522.8" y="787.6" font-family="&quot;Liberation Sans&quot;, sans-serif" font-size="19.5" textLength="131.8" lengthAdjust="spacingAndGlyphs" fill="#000" stroke="#fff" stroke-width="0.22">gres + panele</text>
<text x="522.8" y="811.6" font-family="&quot;Liberation Sans&quot;, sans-serif" font-size="19.5" textLength="79.5" lengthAdjust="spacingAndGlyphs" fill="#000" stroke="#fff" stroke-width="0.22">24,76m2</text>
<text x="224.2" y="885.5" font-family="&quot;Liberation Sans&quot;, sans-serif" font-size="19.5" textLength="62.7" lengthAdjust="spacingAndGlyphs" fill="#000" stroke="#fff" stroke-width="0.22">3.W.C.</text>
<text x="224.2" y="909" font-family="&quot;Liberation Sans&quot;, sans-serif" font-size="19.5" textLength="40.8" lengthAdjust="spacingAndGlyphs" fill="#000" stroke="#fff" stroke-width="0.22">gres</text>
<text x="224.2" y="933.7" font-family="&quot;Liberation Sans&quot;, sans-serif" font-size="19.5" textLength="69.2" lengthAdjust="spacingAndGlyphs" fill="#000" stroke="#fff" stroke-width="0.22">4,03m2</text>
<text x="318.2" y="1132.5" font-family="&quot;Liberation Sans&quot;, sans-serif" font-size="37" textLength="220" lengthAdjust="spacingAndGlyphs" fill="#000" stroke="#fff" stroke-width="0.25">139=38,88m2</text>
</g>
<rect x="861.7" y="0" width="71" height="1149" fill="#fff" opacity="0.5"/>
</svg></body></html>
